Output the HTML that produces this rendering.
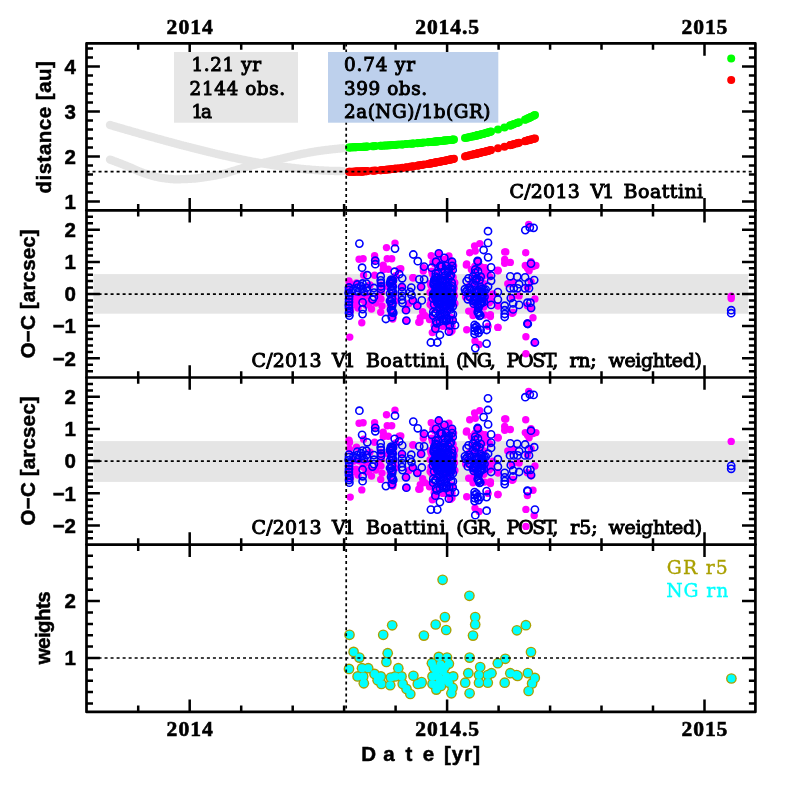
<!DOCTYPE html>
<html><head><meta charset="utf-8"><title>C/2013 V1 Boattini</title>
<style>html,body{margin:0;padding:0;background:#fff}svg{display:block;will-change:transform}.sb{font-family:"Liberation Serif",serif;font-weight:bold;font-size:21.6px;stroke:#000;stroke-width:.6px}.nb{font-family:"Liberation Sans",sans-serif;font-weight:bold;font-size:20.5px;stroke:#000;stroke-width:.5px}.ds{font-family:"DejaVu Serif","Liberation Serif",serif;font-size:18.4px;stroke:#000;stroke-width:.95px}.m{fill:#f0f}.b{fill:none;stroke:#00f}.lg{font-family:"DejaVu Serif","Liberation Serif",serif;font-size:18.8px}</style></head><body>
<svg width="797" height="797" viewBox="0 0 797 797">
<rect width="797" height="797" fill="#fff"/>
<rect x="93.4" y="274.1" width="654.9" height="39.6" fill="#e5e5e5"/>
<rect x="93.4" y="441.1" width="654.9" height="40.8" fill="#e5e5e5"/>
<g fill="none" stroke-linecap="round" stroke-linejoin="round" stroke-width="8.3">
<polyline stroke="#e5e5e5" points="110.0,125.0 111.0,125.3 112.0,125.6 113.0,125.9 114.0,126.2 115.0,126.5 116.0,126.8 117.0,127.1 118.0,127.4 119.0,127.6 120.0,127.9 121.0,128.2 122.0,128.5 123.0,128.8 124.0,129.1 125.0,129.4 126.0,129.7 127.0,130.0 128.0,130.2 129.0,130.5 130.0,130.8 131.0,131.1 132.0,131.4 133.0,131.7 134.0,132.0 135.0,132.3 136.0,132.5 137.0,132.8 138.0,133.1 139.0,133.4 140.0,133.7 141.0,134.0 142.0,134.2 143.0,134.5 144.0,134.8 145.0,135.1 146.0,135.4 147.0,135.7 148.0,135.9 149.0,136.2 150.0,136.5 151.0,136.8 152.0,137.1 153.0,137.3 154.0,137.6 155.0,137.9 156.0,138.2 157.0,138.5 158.0,138.7 159.0,139.0 160.0,139.3 161.0,139.6 162.0,139.8 163.0,140.1 164.0,140.4 165.0,140.7 166.0,140.9 167.0,141.2 168.0,141.5 169.0,141.7 170.0,142.0 171.0,142.3 172.0,142.6 173.0,142.8 174.0,143.1 175.0,143.4 176.0,143.6 177.0,143.9 178.0,144.2 179.0,144.4 180.0,144.7 181.0,145.0 182.0,145.2 183.0,145.5 184.0,145.7 185.0,146.0 186.0,146.3 187.0,146.5 188.0,146.8 189.0,147.0 190.0,147.3 191.0,147.6 192.0,147.8 193.0,148.1 194.0,148.3 195.0,148.6 196.0,148.8 197.0,149.1 198.0,149.3 199.0,149.6 200.0,149.8 201.0,150.1 202.0,150.3 203.0,150.6 204.0,150.8 205.0,151.1 206.0,151.3 207.0,151.6 208.0,151.8 209.0,152.1 210.0,152.3 211.0,152.5 212.0,152.8 213.0,153.0 214.0,153.3 215.0,153.5 216.0,153.7 217.0,154.0 218.0,154.2 219.0,154.4 220.0,154.7 221.0,154.9 222.0,155.1 223.0,155.4 224.0,155.6 225.0,155.8 226.0,156.0 227.0,156.3 228.0,156.5 229.0,156.7 230.0,156.9 231.0,157.2 232.0,157.4 233.0,157.6 234.0,157.8 235.0,158.0 236.0,158.2 237.0,158.4 238.0,158.7 239.0,158.9 240.0,159.1 241.0,159.3 242.0,159.5 243.0,159.7 244.0,159.9 245.0,160.1 246.0,160.3 247.0,160.5 248.0,160.7 249.0,160.9 250.0,161.1 251.0,161.3 252.0,161.5 253.0,161.7 254.0,161.9 255.0,162.0 256.0,162.2 257.0,162.4 258.0,162.6 259.0,162.8 260.0,163.0 261.0,163.1 262.0,163.3 263.0,163.5 264.0,163.7 265.0,163.8 266.0,164.0 267.0,164.2 268.0,164.3 269.0,164.5 270.0,164.7 271.0,164.8 272.0,165.0 273.0,165.1 274.0,165.3 275.0,165.5 276.0,165.6 277.0,165.8 278.0,165.9 279.0,166.1 280.0,166.2 281.0,166.3 282.0,166.5 283.0,166.6 284.0,166.8 285.0,166.9 286.0,167.0 287.0,167.2 288.0,167.3 289.0,167.4 290.0,167.5 291.0,167.7 292.0,167.8 293.0,167.9 294.0,168.0 295.0,168.1 296.0,168.3 297.0,168.4 298.0,168.5 299.0,168.6 300.0,168.7 301.0,168.8 302.0,168.9 303.0,169.0 304.0,169.1 305.0,169.2 306.0,169.3 307.0,169.4 308.0,169.5 309.0,169.5 310.0,169.6 311.0,169.7 312.0,169.8 313.0,169.9 314.0,169.9 315.0,170.0 316.0,170.1 317.0,170.1 318.0,170.2 319.0,170.3 320.0,170.3 321.0,170.4 322.0,170.4 323.0,170.5 324.0,170.6 325.0,170.6 326.0,170.6 327.0,170.7 328.0,170.7 329.0,170.8 330.0,170.8 331.0,170.8 332.0,170.9 333.0,170.9 334.0,170.9 335.0,171.0 336.0,171.0 337.0,171.0 338.0,171.0 339.0,171.0 340.0,171.0 341.0,171.1 342.0,171.1 343.0,171.1"/>
<polyline stroke="#e5e5e5" points="110.0,159.6 111.0,160.0 112.0,160.3 113.0,160.7 114.0,161.1 115.0,161.4 116.0,161.8 117.0,162.2 118.0,162.6 119.0,162.9 120.0,163.3 121.0,163.7 122.0,164.1 123.0,164.5 124.0,164.9 125.0,165.3 126.0,165.7 127.0,166.1 128.0,166.5 129.0,166.9 130.0,167.3 131.0,167.7 132.0,168.2 133.0,168.6 134.0,169.1 135.0,169.5 136.0,170.0 137.0,170.4 138.0,170.9 139.0,171.3 140.0,171.7 141.0,172.1 142.0,172.5 143.0,172.8 144.0,173.2 145.0,173.5 146.0,173.8 147.0,174.2 148.0,174.5 149.0,174.8 150.0,175.1 151.0,175.4 152.0,175.7 153.0,176.0 154.0,176.3 155.0,176.6 156.0,176.8 157.0,177.0 158.0,177.2 159.0,177.4 160.0,177.6 161.0,177.8 162.0,177.9 163.0,178.1 164.0,178.2 165.0,178.3 166.0,178.5 167.0,178.6 168.0,178.7 169.0,178.8 170.0,179.0 171.0,179.0 172.0,179.1 173.0,179.2 174.0,179.3 175.0,179.3 176.0,179.3 177.0,179.3 178.0,179.3 179.0,179.3 180.0,179.3 181.0,179.2 182.0,179.2 183.0,179.2 184.0,179.1 185.0,179.1 186.0,179.0 187.0,179.0 188.0,178.9 189.0,178.9 190.0,178.8 191.0,178.8 192.0,178.7 193.0,178.6 194.0,178.6 195.0,178.5 196.0,178.4 197.0,178.3 198.0,178.2 199.0,178.0 200.0,177.9 201.0,177.8 202.0,177.6 203.0,177.5 204.0,177.3 205.0,177.2 206.0,177.0 207.0,176.9 208.0,176.7 209.0,176.6 210.0,176.4 211.0,176.2 212.0,176.1 213.0,175.9 214.0,175.7 215.0,175.6 216.0,175.4 217.0,175.2 218.0,175.0 219.0,174.8 220.0,174.6 221.0,174.4 222.0,174.2 223.0,173.9 224.0,173.7 225.0,173.4 226.0,173.2 227.0,172.9 228.0,172.6 229.0,172.3 230.0,171.9 231.0,171.6 232.0,171.3 233.0,171.0 234.0,170.7 235.0,170.4 236.0,170.1 237.0,169.8 238.0,169.5 239.0,169.2 240.0,168.9 241.0,168.6 242.0,168.3 243.0,168.0 244.0,167.7 245.0,167.4 246.0,167.1 247.0,166.8 248.0,166.5 249.0,166.2 250.0,166.0 251.0,165.7 252.0,165.4 253.0,165.2 254.0,164.9 255.0,164.7 256.0,164.4 257.0,164.2 258.0,164.0 259.0,163.7 260.0,163.5 261.0,163.3 262.0,163.1 263.0,162.9 264.0,162.6 265.0,162.4 266.0,162.2 267.0,162.0 268.0,161.7 269.0,161.5 270.0,161.3 271.0,161.1 272.0,160.8 273.0,160.6 274.0,160.4 275.0,160.1 276.0,159.9 277.0,159.7 278.0,159.4 279.0,159.2 280.0,159.0 281.0,158.8 282.0,158.5 283.0,158.3 284.0,158.1 285.0,157.8 286.0,157.6 287.0,157.4 288.0,157.1 289.0,156.9 290.0,156.7 291.0,156.4 292.0,156.2 293.0,155.9 294.0,155.7 295.0,155.5 296.0,155.2 297.0,155.0 298.0,154.8 299.0,154.6 300.0,154.4 301.0,154.1 302.0,153.9 303.0,153.7 304.0,153.5 305.0,153.4 306.0,153.2 307.0,153.0 308.0,152.8 309.0,152.6 310.0,152.4 311.0,152.2 312.0,152.1 313.0,151.9 314.0,151.7 315.0,151.5 316.0,151.4 317.0,151.2 318.0,151.1 319.0,150.9 320.0,150.8 321.0,150.7 322.0,150.5 323.0,150.4 324.0,150.3 325.0,150.1 326.0,150.0 327.0,149.9 328.0,149.8 329.0,149.7 330.0,149.5 331.0,149.4 332.0,149.3 333.0,149.2 334.0,149.1 335.0,149.0 336.0,148.9 337.0,148.8 338.0,148.7 339.0,148.6 340.0,148.5 341.0,148.4 342.0,148.3 343.0,148.2"/>
</g>
<g fill="#00ff00">
<circle cx="349.0" cy="147.5" r="4"/>
<circle cx="349.5" cy="147.5" r="4"/>
<circle cx="351.0" cy="147.4" r="4"/>
<circle cx="352.5" cy="147.3" r="4"/>
<circle cx="353.5" cy="147.3" r="4"/>
<circle cx="354.0" cy="147.3" r="4"/>
<circle cx="355.5" cy="147.2" r="4"/>
<circle cx="356.0" cy="147.2" r="4"/>
<circle cx="357.0" cy="147.1" r="4"/>
<circle cx="357.5" cy="147.1" r="4"/>
<circle cx="358.5" cy="147.1" r="4"/>
<circle cx="359.5" cy="147.0" r="4"/>
<circle cx="360.0" cy="147.0" r="4"/>
<circle cx="361.0" cy="146.9" r="4"/>
<circle cx="361.5" cy="146.9" r="4"/>
<circle cx="362.0" cy="146.9" r="4"/>
<circle cx="362.5" cy="146.9" r="4"/>
<circle cx="363.0" cy="146.8" r="4"/>
<circle cx="364.0" cy="146.8" r="4"/>
<circle cx="364.5" cy="146.8" r="4"/>
<circle cx="366.0" cy="146.7" r="4"/>
<circle cx="366.5" cy="146.6" r="4"/>
<circle cx="367.5" cy="146.6" r="4"/>
<circle cx="372.5" cy="146.3" r="4"/>
<circle cx="374.0" cy="146.2" r="4"/>
<circle cx="375.5" cy="146.1" r="4"/>
<circle cx="380.5" cy="145.8" r="4"/>
<circle cx="381.0" cy="145.8" r="4"/>
<circle cx="383.0" cy="145.7" r="4"/>
<circle cx="384.5" cy="145.6" r="4"/>
<circle cx="386.0" cy="145.5" r="4"/>
<circle cx="387.5" cy="145.4" r="4"/>
<circle cx="389.0" cy="145.3" r="4"/>
<circle cx="390.5" cy="145.2" r="4"/>
<circle cx="392.0" cy="145.1" r="4"/>
<circle cx="393.5" cy="145.0" r="4"/>
<circle cx="394.5" cy="144.9" r="4"/>
<circle cx="395.0" cy="144.9" r="4"/>
<circle cx="396.5" cy="144.8" r="4"/>
<circle cx="399.0" cy="144.6" r="4"/>
<circle cx="402.0" cy="144.4" r="4"/>
<circle cx="402.5" cy="144.4" r="4"/>
<circle cx="406.0" cy="144.1" r="4"/>
<circle cx="406.5" cy="144.1" r="4"/>
<circle cx="410.0" cy="143.8" r="4"/>
<circle cx="411.5" cy="143.7" r="4"/>
<circle cx="413.0" cy="143.6" r="4"/>
<circle cx="413.5" cy="143.5" r="4"/>
<circle cx="417.5" cy="143.2" r="4"/>
<circle cx="418.0" cy="143.1" r="4"/>
<circle cx="419.5" cy="143.0" r="4"/>
<circle cx="421.0" cy="142.9" r="4"/>
<circle cx="422.0" cy="142.8" r="4"/>
<circle cx="424.0" cy="142.6" r="4"/>
<circle cx="428.0" cy="142.2" r="4"/>
<circle cx="429.0" cy="142.1" r="4"/>
<circle cx="430.0" cy="142.1" r="4"/>
<circle cx="431.0" cy="142.0" r="4"/>
<circle cx="431.5" cy="141.9" r="4"/>
<circle cx="432.0" cy="141.9" r="4"/>
<circle cx="433.0" cy="141.8" r="4"/>
<circle cx="434.0" cy="141.7" r="4"/>
<circle cx="435.0" cy="141.6" r="4"/>
<circle cx="435.5" cy="141.5" r="4"/>
<circle cx="436.0" cy="141.5" r="4"/>
<circle cx="437.0" cy="141.4" r="4"/>
<circle cx="437.5" cy="141.3" r="4"/>
<circle cx="438.0" cy="141.3" r="4"/>
<circle cx="439.0" cy="141.2" r="4"/>
<circle cx="440.0" cy="141.1" r="4"/>
<circle cx="441.0" cy="141.0" r="4"/>
<circle cx="442.0" cy="140.9" r="4"/>
<circle cx="443.0" cy="140.7" r="4"/>
<circle cx="444.0" cy="140.6" r="4"/>
<circle cx="444.5" cy="140.6" r="4"/>
<circle cx="445.0" cy="140.5" r="4"/>
<circle cx="446.0" cy="140.4" r="4"/>
<circle cx="447.0" cy="140.3" r="4"/>
<circle cx="448.0" cy="140.2" r="4"/>
<circle cx="449.0" cy="140.1" r="4"/>
<circle cx="449.5" cy="140.0" r="4"/>
<circle cx="450.0" cy="140.0" r="4"/>
<circle cx="451.0" cy="139.9" r="4"/>
<circle cx="452.0" cy="139.8" r="4"/>
<circle cx="452.5" cy="139.7" r="4"/>
<circle cx="453.0" cy="139.6" r="4"/>
<circle cx="454.0" cy="139.5" r="4"/>
<circle cx="465.0" cy="138.0" r="4"/>
<circle cx="466.5" cy="137.7" r="4"/>
<circle cx="468.0" cy="137.4" r="4"/>
<circle cx="469.5" cy="137.1" r="4"/>
<circle cx="471.0" cy="136.8" r="4"/>
<circle cx="472.5" cy="136.5" r="4"/>
<circle cx="474.0" cy="136.2" r="4"/>
<circle cx="474.5" cy="136.0" r="4"/>
<circle cx="475.5" cy="135.8" r="4"/>
<circle cx="476.5" cy="135.6" r="4"/>
<circle cx="477.0" cy="135.4" r="4"/>
<circle cx="477.5" cy="135.3" r="4"/>
<circle cx="478.0" cy="135.2" r="4"/>
<circle cx="478.5" cy="135.1" r="4"/>
<circle cx="480.0" cy="134.7" r="4"/>
<circle cx="480.5" cy="134.5" r="4"/>
<circle cx="481.5" cy="134.3" r="4"/>
<circle cx="483.0" cy="133.9" r="4"/>
<circle cx="483.5" cy="133.7" r="4"/>
<circle cx="484.5" cy="133.5" r="4"/>
<circle cx="486.0" cy="133.1" r="4"/>
<circle cx="486.5" cy="132.9" r="4"/>
<circle cx="487.5" cy="132.6" r="4"/>
<circle cx="488.0" cy="132.5" r="4"/>
<circle cx="489.0" cy="132.2" r="4"/>
<circle cx="490.5" cy="131.8" r="4"/>
<circle cx="491.0" cy="131.6" r="4"/>
<circle cx="498.0" cy="129.6" r="4"/>
<circle cx="504.5" cy="127.5" r="4"/>
<circle cx="510.0" cy="125.6" r="4"/>
<circle cx="510.5" cy="125.4" r="4"/>
<circle cx="511.0" cy="125.2" r="4"/>
<circle cx="513.0" cy="124.5" r="4"/>
<circle cx="514.0" cy="124.1" r="4"/>
<circle cx="517.0" cy="123.0" r="4"/>
<circle cx="517.5" cy="122.8" r="4"/>
<circle cx="519.0" cy="122.2" r="4"/>
<circle cx="525.0" cy="119.8" r="4"/>
<circle cx="525.5" cy="119.5" r="4"/>
<circle cx="527.5" cy="118.6" r="4"/>
<circle cx="528.0" cy="118.4" r="4"/>
<circle cx="529.0" cy="117.9" r="4"/>
<circle cx="530.0" cy="117.5" r="4"/>
<circle cx="530.5" cy="117.2" r="4"/>
<circle cx="531.0" cy="117.0" r="4"/>
<circle cx="533.5" cy="115.8" r="4"/>
<circle cx="534.0" cy="115.5" r="4"/>
<circle cx="535.0" cy="115.0" r="4"/>
</g>
<g fill="#ff0000">
<circle cx="349.0" cy="171.7" r="4"/>
<circle cx="349.5" cy="171.7" r="4"/>
<circle cx="351.0" cy="171.7" r="4"/>
<circle cx="352.5" cy="171.7" r="4"/>
<circle cx="353.5" cy="171.7" r="4"/>
<circle cx="354.0" cy="171.7" r="4"/>
<circle cx="355.5" cy="171.6" r="4"/>
<circle cx="356.0" cy="171.6" r="4"/>
<circle cx="357.0" cy="171.6" r="4"/>
<circle cx="357.5" cy="171.6" r="4"/>
<circle cx="358.5" cy="171.5" r="4"/>
<circle cx="359.5" cy="171.5" r="4"/>
<circle cx="360.0" cy="171.5" r="4"/>
<circle cx="361.0" cy="171.4" r="4"/>
<circle cx="361.5" cy="171.4" r="4"/>
<circle cx="362.0" cy="171.4" r="4"/>
<circle cx="362.5" cy="171.4" r="4"/>
<circle cx="363.0" cy="171.4" r="4"/>
<circle cx="364.0" cy="171.3" r="4"/>
<circle cx="364.5" cy="171.3" r="4"/>
<circle cx="366.0" cy="171.2" r="4"/>
<circle cx="366.5" cy="171.2" r="4"/>
<circle cx="367.5" cy="171.1" r="4"/>
<circle cx="372.5" cy="170.8" r="4"/>
<circle cx="374.0" cy="170.7" r="4"/>
<circle cx="375.5" cy="170.6" r="4"/>
<circle cx="380.5" cy="170.2" r="4"/>
<circle cx="381.0" cy="170.2" r="4"/>
<circle cx="383.0" cy="170.0" r="4"/>
<circle cx="384.5" cy="169.9" r="4"/>
<circle cx="386.0" cy="169.7" r="4"/>
<circle cx="387.5" cy="169.6" r="4"/>
<circle cx="389.0" cy="169.4" r="4"/>
<circle cx="390.5" cy="169.3" r="4"/>
<circle cx="392.0" cy="169.1" r="4"/>
<circle cx="393.5" cy="168.9" r="4"/>
<circle cx="394.5" cy="168.8" r="4"/>
<circle cx="395.0" cy="168.8" r="4"/>
<circle cx="396.5" cy="168.6" r="4"/>
<circle cx="399.0" cy="168.3" r="4"/>
<circle cx="402.0" cy="167.9" r="4"/>
<circle cx="402.5" cy="167.8" r="4"/>
<circle cx="406.0" cy="167.4" r="4"/>
<circle cx="406.5" cy="167.3" r="4"/>
<circle cx="410.0" cy="166.8" r="4"/>
<circle cx="411.5" cy="166.6" r="4"/>
<circle cx="413.0" cy="166.4" r="4"/>
<circle cx="413.5" cy="166.3" r="4"/>
<circle cx="417.5" cy="165.7" r="4"/>
<circle cx="418.0" cy="165.6" r="4"/>
<circle cx="419.5" cy="165.3" r="4"/>
<circle cx="421.0" cy="165.1" r="4"/>
<circle cx="422.0" cy="164.9" r="4"/>
<circle cx="424.0" cy="164.6" r="4"/>
<circle cx="428.0" cy="163.9" r="4"/>
<circle cx="429.0" cy="163.7" r="4"/>
<circle cx="430.0" cy="163.5" r="4"/>
<circle cx="431.0" cy="163.4" r="4"/>
<circle cx="431.5" cy="163.3" r="4"/>
<circle cx="432.0" cy="163.2" r="4"/>
<circle cx="433.0" cy="163.0" r="4"/>
<circle cx="434.0" cy="162.8" r="4"/>
<circle cx="435.0" cy="162.6" r="4"/>
<circle cx="435.5" cy="162.5" r="4"/>
<circle cx="436.0" cy="162.4" r="4"/>
<circle cx="437.0" cy="162.2" r="4"/>
<circle cx="437.5" cy="162.1" r="4"/>
<circle cx="438.0" cy="162.0" r="4"/>
<circle cx="439.0" cy="161.8" r="4"/>
<circle cx="440.0" cy="161.7" r="4"/>
<circle cx="441.0" cy="161.5" r="4"/>
<circle cx="442.0" cy="161.3" r="4"/>
<circle cx="443.0" cy="161.1" r="4"/>
<circle cx="444.0" cy="160.9" r="4"/>
<circle cx="444.5" cy="160.8" r="4"/>
<circle cx="445.0" cy="160.7" r="4"/>
<circle cx="446.0" cy="160.5" r="4"/>
<circle cx="447.0" cy="160.3" r="4"/>
<circle cx="448.0" cy="160.0" r="4"/>
<circle cx="449.0" cy="159.8" r="4"/>
<circle cx="449.5" cy="159.7" r="4"/>
<circle cx="450.0" cy="159.6" r="4"/>
<circle cx="451.0" cy="159.4" r="4"/>
<circle cx="452.0" cy="159.2" r="4"/>
<circle cx="452.5" cy="159.1" r="4"/>
<circle cx="453.0" cy="159.0" r="4"/>
<circle cx="454.0" cy="158.8" r="4"/>
<circle cx="465.0" cy="156.4" r="4"/>
<circle cx="466.5" cy="156.0" r="4"/>
<circle cx="468.0" cy="155.7" r="4"/>
<circle cx="469.5" cy="155.3" r="4"/>
<circle cx="471.0" cy="155.0" r="4"/>
<circle cx="472.5" cy="154.6" r="4"/>
<circle cx="474.0" cy="154.3" r="4"/>
<circle cx="474.5" cy="154.2" r="4"/>
<circle cx="475.5" cy="153.9" r="4"/>
<circle cx="476.5" cy="153.7" r="4"/>
<circle cx="477.0" cy="153.6" r="4"/>
<circle cx="477.5" cy="153.4" r="4"/>
<circle cx="478.0" cy="153.3" r="4"/>
<circle cx="478.5" cy="153.2" r="4"/>
<circle cx="480.0" cy="152.8" r="4"/>
<circle cx="480.5" cy="152.7" r="4"/>
<circle cx="481.5" cy="152.5" r="4"/>
<circle cx="483.0" cy="152.1" r="4"/>
<circle cx="483.5" cy="152.0" r="4"/>
<circle cx="484.5" cy="151.7" r="4"/>
<circle cx="486.0" cy="151.4" r="4"/>
<circle cx="486.5" cy="151.2" r="4"/>
<circle cx="487.5" cy="151.0" r="4"/>
<circle cx="488.0" cy="150.9" r="4"/>
<circle cx="489.0" cy="150.6" r="4"/>
<circle cx="490.5" cy="150.2" r="4"/>
<circle cx="491.0" cy="150.1" r="4"/>
<circle cx="498.0" cy="148.3" r="4"/>
<circle cx="504.5" cy="146.7" r="4"/>
<circle cx="510.0" cy="145.2" r="4"/>
<circle cx="510.5" cy="145.1" r="4"/>
<circle cx="511.0" cy="144.9" r="4"/>
<circle cx="513.0" cy="144.4" r="4"/>
<circle cx="514.0" cy="144.1" r="4"/>
<circle cx="517.0" cy="143.3" r="4"/>
<circle cx="517.5" cy="143.2" r="4"/>
<circle cx="519.0" cy="142.8" r="4"/>
<circle cx="525.0" cy="141.2" r="4"/>
<circle cx="525.5" cy="141.0" r="4"/>
<circle cx="527.5" cy="140.5" r="4"/>
<circle cx="528.0" cy="140.3" r="4"/>
<circle cx="529.0" cy="140.1" r="4"/>
<circle cx="530.0" cy="139.8" r="4"/>
<circle cx="530.5" cy="139.7" r="4"/>
<circle cx="531.0" cy="139.5" r="4"/>
<circle cx="533.5" cy="138.8" r="4"/>
<circle cx="534.0" cy="138.7" r="4"/>
<circle cx="535.0" cy="138.4" r="4"/>
</g>
<g>
<circle cx="731.2" cy="58.5" r="4" fill="#00ff00"/><circle cx="731.2" cy="80.1" r="4" fill="#ff0000"/>
<text y="198.4" class="ds" style="font-size:19px"><tspan x="509.5" textLength="76.5">C/2013 </tspan><tspan x="590.6" textLength="27.5">V1 </tspan><tspan x="623.6" textLength="79.6">Boattini</tspan></text>
<text y="367.0" class="ds" style="font-size:19px"><tspan x="251.4" textLength="76.5">C/2013 </tspan><tspan x="331.9" textLength="27.5">V1 </tspan><tspan x="365.9" textLength="86.2">Boattini </tspan><tspan x="456.1" textLength="44.1">(NG, </tspan><tspan x="506.5" textLength="56.6">POST, </tspan><tspan x="569.4" textLength="33.1">rn; </tspan><tspan x="608.6" textLength="93.3">weighted)</tspan></text>
<g stroke-width="1.6">
<circle class="m" cx="395.0" cy="243.1" r="3.7"/>
<circle class="m" cx="386.5" cy="247.6" r="3.7"/>
<circle class="m" cx="359.1" cy="259.2" r="3.7"/>
<circle class="m" cx="363.1" cy="258.7" r="3.7"/>
<circle class="m" cx="374.6" cy="255.7" r="3.7"/>
<circle class="m" cx="374.6" cy="260.2" r="3.7"/>
<circle class="m" cx="387.2" cy="258.7" r="3.7"/>
<circle class="m" cx="391.7" cy="258.7" r="3.7"/>
<circle class="m" cx="383.2" cy="265.2" r="3.7"/>
<circle class="m" cx="383.2" cy="269.7" r="3.7"/>
<circle class="m" cx="388.2" cy="269.2" r="3.7"/>
<circle class="m" cx="399.2" cy="269.2" r="3.7"/>
<circle class="m" cx="363.6" cy="275.2" r="3.7"/>
<circle class="m" cx="374.6" cy="275.2" r="3.7"/>
<circle class="m" cx="413.3" cy="277.8" r="3.7"/>
<circle class="m" cx="349.5" cy="283.3" r="3.7"/>
<circle class="m" cx="401.7" cy="287.3" r="3.7"/>
<circle class="m" cx="349.8" cy="337.1" r="3.7"/>
<circle class="m" cx="361.8" cy="322.8" r="3.7"/>
<circle class="m" cx="392.7" cy="319.0" r="3.7"/>
<circle class="m" cx="380.7" cy="312.3" r="3.7"/>
<circle class="m" cx="431.2" cy="255.7" r="3.7"/>
<circle class="m" cx="448.9" cy="256.0" r="3.7"/>
<circle class="m" cx="435.4" cy="261.7" r="3.7"/>
<circle class="m" cx="444.4" cy="259.4" r="3.7"/>
<circle class="m" cx="451.2" cy="262.1" r="3.7"/>
<circle class="m" cx="423.3" cy="267.7" r="3.7"/>
<circle class="m" cx="423.3" cy="271.1" r="3.7"/>
<circle class="m" cx="431.6" cy="271.1" r="3.7"/>
<circle class="m" cx="435.4" cy="272.2" r="3.7"/>
<circle class="m" cx="400.8" cy="268.8" r="3.7"/>
<circle class="m" cx="412.8" cy="277.8" r="3.7"/>
<circle class="m" cx="421.1" cy="286.8" r="3.7"/>
<circle class="m" cx="412.8" cy="300.4" r="3.7"/>
<circle class="m" cx="417.3" cy="305.7" r="3.7"/>
<circle class="m" cx="406.0" cy="310.2" r="3.7"/>
<circle class="m" cx="406.0" cy="320.7" r="3.7"/>
<circle class="m" cx="409.0" cy="303.4" r="3.7"/>
<circle class="m" cx="422.6" cy="311.7" r="3.7"/>
<circle class="m" cx="420.3" cy="317.7" r="3.7"/>
<circle class="m" cx="424.8" cy="315.5" r="3.7"/>
<circle class="m" cx="418.8" cy="322.2" r="3.7"/>
<circle class="m" cx="420.0" cy="321.8" r="3.7"/>
<circle class="m" cx="434.6" cy="330.0" r="3.7"/>
<circle class="m" cx="442.9" cy="326.3" r="3.7"/>
<circle class="m" cx="452.0" cy="330.8" r="3.7"/>
<circle class="m" cx="479.8" cy="243.6" r="3.7"/>
<circle class="m" cx="474.6" cy="245.9" r="3.7"/>
<circle class="m" cx="469.7" cy="252.7" r="3.7"/>
<circle class="m" cx="475.3" cy="251.1" r="3.7"/>
<circle class="m" cx="466.7" cy="263.9" r="3.7"/>
<circle class="m" cx="477.6" cy="261.7" r="3.7"/>
<circle class="m" cx="504.7" cy="251.9" r="3.7"/>
<circle class="m" cx="504.7" cy="259.4" r="3.7"/>
<circle class="m" cx="510.3" cy="262.4" r="3.7"/>
<circle class="m" cx="504.7" cy="263.2" r="3.7"/>
<circle class="m" cx="485.1" cy="267.7" r="3.7"/>
<circle class="m" cx="497.9" cy="270.7" r="3.7"/>
<circle class="m" cx="474.6" cy="270.7" r="3.7"/>
<circle class="m" cx="485.1" cy="272.2" r="3.7"/>
<circle class="m" cx="497.9" cy="270.3" r="3.7"/>
<circle class="m" cx="466.3" cy="265.0" r="3.7"/>
<circle class="m" cx="490.4" cy="314.7" r="3.7"/>
<circle class="m" cx="497.9" cy="305.7" r="3.7"/>
<circle class="m" cx="512.2" cy="283.8" r="3.7"/>
<circle class="m" cx="512.2" cy="313.2" r="3.7"/>
<circle class="m" cx="466.7" cy="329.7" r="3.7"/>
<circle class="m" cx="497.9" cy="327.4" r="3.7"/>
<circle class="m" cx="475.0" cy="341.0" r="3.7"/>
<circle class="m" cx="479.1" cy="344.4" r="3.7"/>
<circle class="m" cx="488.1" cy="326.3" r="3.7"/>
<circle class="m" cx="490.4" cy="316.5" r="3.7"/>
<circle class="m" cx="528.7" cy="224.4" r="3.7"/>
<circle class="m" cx="525.7" cy="252.7" r="3.7"/>
<circle class="m" cx="505.8" cy="251.9" r="3.7"/>
<circle class="m" cx="531.0" cy="261.7" r="3.7"/>
<circle class="m" cx="525.3" cy="265.5" r="3.7"/>
<circle class="m" cx="535.9" cy="265.5" r="3.7"/>
<circle class="m" cx="529.1" cy="270.7" r="3.7"/>
<circle class="m" cx="498.0" cy="270.6" r="3.7"/>
<circle class="m" cx="513.1" cy="282.3" r="3.7"/>
<circle class="m" cx="507.8" cy="283.8" r="3.7"/>
<circle class="m" cx="527.4" cy="287.6" r="3.7"/>
<circle class="m" cx="531.1" cy="281.6" r="3.7"/>
<circle class="m" cx="519.1" cy="295.9" r="3.7"/>
<circle class="m" cx="534.9" cy="298.9" r="3.7"/>
<circle class="m" cx="512.3" cy="297.4" r="3.7"/>
<circle class="m" cx="498.0" cy="305.7" r="3.7"/>
<circle class="m" cx="513.1" cy="312.4" r="3.7"/>
<circle class="m" cx="527.4" cy="305.7" r="3.7"/>
<circle class="m" cx="531.1" cy="308.7" r="3.7"/>
<circle class="m" cx="533.0" cy="317.7" r="3.7"/>
<circle class="m" cx="527.4" cy="323.0" r="3.7"/>
<circle class="m" cx="527.4" cy="268.0" r="3.7"/>
<circle class="m" cx="533.0" cy="266.5" r="3.7"/>
<circle class="m" cx="498.0" cy="327.4" r="3.7"/>
<circle class="m" cx="525.9" cy="336.8" r="3.7"/>
<circle class="m" cx="534.2" cy="342.9" r="3.7"/>
<circle class="m" cx="525.9" cy="353.8" r="3.7"/>
<circle class="m" cx="349.0" cy="281.0" r="3.7"/>
<circle class="m" cx="349.5" cy="290.0" r="3.7"/>
<circle class="m" cx="350.0" cy="300.0" r="3.7"/>
<circle class="m" cx="349.0" cy="306.0" r="3.7"/>
<circle class="m" cx="350.5" cy="311.0" r="3.7"/>
<circle class="m" cx="354.0" cy="297.0" r="3.7"/>
<circle class="m" cx="356.0" cy="302.0" r="3.7"/>
<circle class="m" cx="358.0" cy="308.0" r="3.7"/>
<circle class="m" cx="352.5" cy="305.0" r="3.7"/>
<circle class="m" cx="356.5" cy="283.0" r="3.7"/>
<circle class="m" cx="359.5" cy="297.0" r="3.7"/>
<circle class="m" cx="363.0" cy="300.0" r="3.7"/>
<circle class="m" cx="366.0" cy="305.0" r="3.7"/>
<circle class="m" cx="367.0" cy="296.0" r="3.7"/>
<circle class="m" cx="369.5" cy="303.0" r="3.7"/>
<circle class="m" cx="371.5" cy="309.0" r="3.7"/>
<circle class="m" cx="376.0" cy="303.0" r="3.7"/>
<circle class="m" cx="378.0" cy="297.0" r="3.7"/>
<circle class="m" cx="370.0" cy="285.0" r="3.7"/>
<circle class="m" cx="381.0" cy="285.0" r="3.7"/>
<circle class="m" cx="381.5" cy="292.0" r="3.7"/>
<circle class="m" cx="381.0" cy="299.0" r="3.7"/>
<circle class="m" cx="382.0" cy="306.0" r="3.7"/>
<circle class="m" cx="391.2" cy="314.3" r="3.7"/>
<circle class="m" cx="392.2" cy="283.8" r="3.7"/>
<circle class="m" cx="395.7" cy="275.8" r="3.7"/>
<circle class="m" cx="391.5" cy="295.2" r="3.7"/>
<circle class="m" cx="393.8" cy="294.8" r="3.7"/>
<circle class="m" cx="388.2" cy="286.8" r="3.7"/>
<circle class="m" cx="393.0" cy="284.3" r="3.7"/>
<circle class="m" cx="395.7" cy="300.6" r="3.7"/>
<circle class="m" cx="393.2" cy="316.9" r="3.7"/>
<circle class="m" cx="393.5" cy="280.8" r="3.7"/>
<circle class="m" cx="392.8" cy="314.0" r="3.7"/>
<circle class="m" cx="390.3" cy="305.9" r="3.7"/>
<circle class="m" cx="436.9" cy="325.9" r="3.7"/>
<circle class="m" cx="454.2" cy="288.3" r="3.7"/>
<circle class="m" cx="448.4" cy="286.6" r="3.7"/>
<circle class="m" cx="432.6" cy="283.5" r="3.7"/>
<circle class="m" cx="438.3" cy="320.4" r="3.7"/>
<circle class="m" cx="434.6" cy="308.4" r="3.7"/>
<circle class="m" cx="436.1" cy="287.4" r="3.7"/>
<circle class="m" cx="452.1" cy="319.5" r="3.7"/>
<circle class="m" cx="447.8" cy="325.5" r="3.7"/>
<circle class="m" cx="434.2" cy="325.5" r="3.7"/>
<circle class="m" cx="454.7" cy="282.9" r="3.7"/>
<circle class="m" cx="448.2" cy="325.7" r="3.7"/>
<circle class="m" cx="450.5" cy="332.1" r="3.7"/>
<circle class="m" cx="443.8" cy="267.0" r="3.7"/>
<circle class="m" cx="448.5" cy="309.2" r="3.7"/>
<circle class="m" cx="446.3" cy="266.9" r="3.7"/>
<circle class="m" cx="453.6" cy="292.3" r="3.7"/>
<circle class="m" cx="438.4" cy="308.3" r="3.7"/>
<circle class="m" cx="454.9" cy="303.4" r="3.7"/>
<circle class="m" cx="437.3" cy="287.7" r="3.7"/>
<circle class="m" cx="433.9" cy="276.5" r="3.7"/>
<circle class="m" cx="453.1" cy="277.2" r="3.7"/>
<circle class="m" cx="451.0" cy="328.9" r="3.7"/>
<circle class="m" cx="440.6" cy="278.6" r="3.7"/>
<circle class="m" cx="434.0" cy="283.2" r="3.7"/>
<circle class="m" cx="439.8" cy="258.9" r="3.7"/>
<circle class="m" cx="440.2" cy="295.5" r="3.7"/>
<circle class="m" cx="439.3" cy="267.7" r="3.7"/>
<circle class="m" cx="437.9" cy="259.7" r="3.7"/>
<circle class="m" cx="447.4" cy="311.4" r="3.7"/>
<circle class="m" cx="451.6" cy="317.8" r="3.7"/>
<circle class="m" cx="439.5" cy="289.9" r="3.7"/>
<circle class="m" cx="438.6" cy="261.1" r="3.7"/>
<circle class="m" cx="448.0" cy="327.0" r="3.7"/>
<circle class="m" cx="429.5" cy="319.6" r="3.7"/>
<circle class="m" cx="449.3" cy="324.0" r="3.7"/>
<circle class="m" cx="433.5" cy="304.9" r="3.7"/>
<circle class="m" cx="454.0" cy="302.8" r="3.7"/>
<circle class="m" cx="449.4" cy="297.1" r="3.7"/>
<circle class="m" cx="432.9" cy="262.1" r="3.7"/>
<circle class="m" cx="444.3" cy="306.9" r="3.7"/>
<circle class="m" cx="454.5" cy="295.7" r="3.7"/>
<circle class="m" cx="440.9" cy="270.0" r="3.7"/>
<circle class="m" cx="438.3" cy="261.8" r="3.7"/>
<circle class="m" cx="445.1" cy="282.1" r="3.7"/>
<circle class="m" cx="441.7" cy="262.2" r="3.7"/>
<circle class="m" cx="441.9" cy="278.8" r="3.7"/>
<circle class="m" cx="454.5" cy="282.4" r="3.7"/>
<circle class="m" cx="430.1" cy="304.5" r="3.7"/>
<circle class="m" cx="440.4" cy="304.0" r="3.7"/>
<circle class="m" cx="453.6" cy="266.0" r="3.7"/>
<circle class="m" cx="438.3" cy="305.0" r="3.7"/>
<circle class="m" cx="436.2" cy="261.1" r="3.7"/>
<circle class="m" cx="438.6" cy="253.8" r="3.7"/>
<circle class="m" cx="441.6" cy="317.4" r="3.7"/>
<circle class="m" cx="432.3" cy="300.6" r="3.7"/>
<circle class="m" cx="452.8" cy="318.6" r="3.7"/>
<circle class="m" cx="431.0" cy="319.3" r="3.7"/>
<circle class="m" cx="430.9" cy="299.8" r="3.7"/>
<circle class="m" cx="440.3" cy="275.0" r="3.7"/>
<circle class="m" cx="441.2" cy="282.9" r="3.7"/>
<circle class="m" cx="432.4" cy="273.9" r="3.7"/>
<circle class="m" cx="434.5" cy="295.5" r="3.7"/>
<circle class="m" cx="441.7" cy="307.5" r="3.7"/>
<circle class="m" cx="449.6" cy="324.1" r="3.7"/>
<circle class="m" cx="436.8" cy="321.3" r="3.7"/>
<circle class="m" cx="434.7" cy="263.7" r="3.7"/>
<circle class="m" cx="439.4" cy="282.5" r="3.7"/>
<circle class="m" cx="450.4" cy="306.3" r="3.7"/>
<circle class="m" cx="434.6" cy="290.8" r="3.7"/>
<circle class="m" cx="437.9" cy="292.5" r="3.7"/>
<circle class="m" cx="445.9" cy="301.5" r="3.7"/>
<circle class="m" cx="440.0" cy="291.8" r="3.7"/>
<circle class="m" cx="450.4" cy="275.7" r="3.7"/>
<circle class="m" cx="431.1" cy="285.8" r="3.7"/>
<circle class="m" cx="439.1" cy="263.5" r="3.7"/>
<circle class="m" cx="437.7" cy="264.2" r="3.7"/>
<circle class="m" cx="447.8" cy="257.7" r="3.7"/>
<circle class="m" cx="430.1" cy="292.5" r="3.7"/>
<circle class="m" cx="452.0" cy="326.2" r="3.7"/>
<circle class="m" cx="450.7" cy="293.8" r="3.7"/>
<circle class="m" cx="432.3" cy="332.6" r="3.7"/>
<circle class="m" cx="450.9" cy="300.4" r="3.7"/>
<circle class="m" cx="438.0" cy="285.7" r="3.7"/>
<circle class="m" cx="449.8" cy="275.8" r="3.7"/>
<circle class="m" cx="449.1" cy="267.9" r="3.7"/>
<circle class="m" cx="430.4" cy="283.5" r="3.7"/>
<circle class="m" cx="452.5" cy="263.8" r="3.7"/>
<circle class="m" cx="432.0" cy="306.6" r="3.7"/>
<circle class="m" cx="441.1" cy="289.0" r="3.7"/>
<circle class="m" cx="445.6" cy="308.9" r="3.7"/>
<circle class="m" cx="451.5" cy="271.3" r="3.7"/>
<circle class="m" cx="451.4" cy="298.0" r="3.7"/>
<circle class="m" cx="439.2" cy="276.0" r="3.7"/>
<circle class="m" cx="435.9" cy="273.2" r="3.7"/>
<circle class="m" cx="452.5" cy="283.6" r="3.7"/>
<circle class="m" cx="440.3" cy="262.3" r="3.7"/>
<circle class="m" cx="446.4" cy="291.8" r="3.7"/>
<circle class="m" cx="430.5" cy="317.0" r="3.7"/>
<circle class="m" cx="435.5" cy="286.4" r="3.7"/>
<circle class="m" cx="483.8" cy="283.8" r="3.7"/>
<circle class="m" cx="491.6" cy="300.6" r="3.7"/>
<circle class="m" cx="481.6" cy="282.6" r="3.7"/>
<circle class="m" cx="489.3" cy="302.8" r="3.7"/>
<circle class="m" cx="484.5" cy="315.0" r="3.7"/>
<circle class="m" cx="480.8" cy="266.7" r="3.7"/>
<circle class="m" cx="492.9" cy="294.0" r="3.7"/>
<circle class="m" cx="476.1" cy="276.8" r="3.7"/>
<circle class="m" cx="487.5" cy="296.8" r="3.7"/>
<circle class="m" cx="482.9" cy="276.2" r="3.7"/>
<circle class="m" cx="468.7" cy="311.1" r="3.7"/>
<circle class="m" cx="480.8" cy="295.1" r="3.7"/>
<circle class="m" cx="466.8" cy="293.6" r="3.7"/>
<circle class="m" cx="475.5" cy="284.1" r="3.7"/>
<circle class="m" cx="472.0" cy="301.6" r="3.7"/>
<circle class="m" cx="475.6" cy="295.9" r="3.7"/>
<circle class="m" cx="476.8" cy="294.8" r="3.7"/>
<circle class="m" cx="472.3" cy="278.9" r="3.7"/>
<circle class="m" cx="473.1" cy="297.2" r="3.7"/>
<circle class="m" cx="481.8" cy="298.1" r="3.7"/>
<circle class="m" cx="470.0" cy="284.9" r="3.7"/>
<circle class="m" cx="479.3" cy="283.6" r="3.7"/>
<circle class="m" cx="483.8" cy="296.2" r="3.7"/>
<circle class="m" cx="482.0" cy="276.0" r="3.7"/>
<circle class="m" cx="478.0" cy="282.0" r="3.7"/>
<circle class="m" cx="475.0" cy="301.7" r="3.7"/>
<circle class="m" cx="480.3" cy="298.9" r="3.7"/>
<circle class="m" cx="473.0" cy="315.6" r="3.7"/>
<circle class="m" cx="475.7" cy="287.2" r="3.7"/>
<circle class="m" cx="474.9" cy="266.3" r="3.7"/>
<circle class="m" cx="489.8" cy="276.7" r="3.7"/>
<circle class="m" cx="487.3" cy="273.3" r="3.7"/>
<circle class="m" cx="473.5" cy="285.1" r="3.7"/>
<circle class="m" cx="465.6" cy="296.9" r="3.7"/>
<circle class="m" cx="483.8" cy="307.1" r="3.7"/>
<circle class="m" cx="481.2" cy="282.2" r="3.7"/>
<circle class="m" cx="471.4" cy="269.4" r="3.7"/>
<circle class="m" cx="474.0" cy="309.0" r="3.7"/>
<circle class="m" cx="481.1" cy="267.4" r="3.7"/>
<circle class="m" cx="475.8" cy="305.7" r="3.7"/>
<circle class="m" cx="731.2" cy="296.3" r="3.7"/>
<circle class="m" cx="731.2" cy="298.6" r="3.7"/>
<circle class="b" cx="359.4" cy="243.6" r="3.6"/>
<circle class="b" cx="395.0" cy="248.6" r="3.6"/>
<circle class="b" cx="413.3" cy="254.5" r="3.6"/>
<circle class="b" cx="417.8" cy="261.2" r="3.6"/>
<circle class="b" cx="375.3" cy="260.7" r="3.6"/>
<circle class="b" cx="375.3" cy="264.2" r="3.6"/>
<circle class="b" cx="362.1" cy="267.7" r="3.6"/>
<circle class="b" cx="367.3" cy="275.2" r="3.6"/>
<circle class="b" cx="380.7" cy="276.2" r="3.6"/>
<circle class="b" cx="380.7" cy="280.3" r="3.6"/>
<circle class="b" cx="394.7" cy="271.7" r="3.6"/>
<circle class="b" cx="399.2" cy="274.2" r="3.6"/>
<circle class="b" cx="402.2" cy="278.3" r="3.6"/>
<circle class="b" cx="419.3" cy="279.3" r="3.6"/>
<circle class="b" cx="349.4" cy="315.6" r="3.6"/>
<circle class="b" cx="385.9" cy="319.0" r="3.6"/>
<circle class="b" cx="362.6" cy="314.1" r="3.6"/>
<circle class="b" cx="362.6" cy="302.4" r="3.6"/>
<circle class="b" cx="362.6" cy="309.2" r="3.6"/>
<circle class="b" cx="424.1" cy="266.6" r="3.6"/>
<circle class="b" cx="431.6" cy="267.7" r="3.6"/>
<circle class="b" cx="438.8" cy="253.4" r="3.6"/>
<circle class="b" cx="444.4" cy="257.9" r="3.6"/>
<circle class="b" cx="436.1" cy="261.7" r="3.6"/>
<circle class="b" cx="452.0" cy="261.7" r="3.6"/>
<circle class="b" cx="452.7" cy="270.0" r="3.6"/>
<circle class="b" cx="424.1" cy="279.3" r="3.6"/>
<circle class="b" cx="411.3" cy="287.6" r="3.6"/>
<circle class="b" cx="421.1" cy="286.8" r="3.6"/>
<circle class="b" cx="410.0" cy="292.0" r="3.6"/>
<circle class="b" cx="411.5" cy="295.0" r="3.6"/>
<circle class="b" cx="402.0" cy="287.0" r="3.6"/>
<circle class="b" cx="402.0" cy="291.5" r="3.6"/>
<circle class="b" cx="402.0" cy="296.0" r="3.6"/>
<circle class="b" cx="402.0" cy="300.0" r="3.6"/>
<circle class="b" cx="402.5" cy="303.0" r="3.6"/>
<circle class="b" cx="412.8" cy="300.4" r="3.6"/>
<circle class="b" cx="421.8" cy="300.4" r="3.6"/>
<circle class="b" cx="417.3" cy="305.7" r="3.6"/>
<circle class="b" cx="406.0" cy="310.2" r="3.6"/>
<circle class="b" cx="406.4" cy="320.6" r="3.6"/>
<circle class="b" cx="430.9" cy="342.5" r="3.6"/>
<circle class="b" cx="437.3" cy="342.5" r="3.6"/>
<circle class="b" cx="439.9" cy="335.0" r="3.6"/>
<circle class="b" cx="435.4" cy="328.6" r="3.6"/>
<circle class="b" cx="436.9" cy="323.3" r="3.6"/>
<circle class="b" cx="448.9" cy="331.6" r="3.6"/>
<circle class="b" cx="449.7" cy="325.5" r="3.6"/>
<circle class="b" cx="455.0" cy="325.2" r="3.6"/>
<circle class="b" cx="488.0" cy="231.2" r="3.6"/>
<circle class="b" cx="488.0" cy="242.9" r="3.6"/>
<circle class="b" cx="483.6" cy="250.0" r="3.6"/>
<circle class="b" cx="488.1" cy="257.3" r="3.6"/>
<circle class="b" cx="477.6" cy="260.9" r="3.6"/>
<circle class="b" cx="477.9" cy="261.5" r="3.6"/>
<circle class="b" cx="475.3" cy="269.5" r="3.6"/>
<circle class="b" cx="491.1" cy="267.3" r="3.6"/>
<circle class="b" cx="491.1" cy="275.5" r="3.6"/>
<circle class="b" cx="491.1" cy="280.8" r="3.6"/>
<circle class="b" cx="497.9" cy="292.1" r="3.6"/>
<circle class="b" cx="497.9" cy="299.6" r="3.6"/>
<circle class="b" cx="491.1" cy="304.9" r="3.6"/>
<circle class="b" cx="504.7" cy="305.7" r="3.6"/>
<circle class="b" cx="504.7" cy="310.2" r="3.6"/>
<circle class="b" cx="504.7" cy="314.0" r="3.6"/>
<circle class="b" cx="504.7" cy="317.0" r="3.6"/>
<circle class="b" cx="510.3" cy="276.3" r="3.6"/>
<circle class="b" cx="481.4" cy="303.4" r="3.6"/>
<circle class="b" cx="475.3" cy="348.1" r="3.6"/>
<circle class="b" cx="486.6" cy="343.6" r="3.6"/>
<circle class="b" cx="486.6" cy="324.0" r="3.6"/>
<circle class="b" cx="486.6" cy="330.0" r="3.6"/>
<circle class="b" cx="474.6" cy="325.0" r="3.6"/>
<circle class="b" cx="474.6" cy="328.0" r="3.6"/>
<circle class="b" cx="474.6" cy="331.0" r="3.6"/>
<circle class="b" cx="474.6" cy="334.0" r="3.6"/>
<circle class="b" cx="476.5" cy="326.5" r="3.6"/>
<circle class="b" cx="477.5" cy="330.0" r="3.6"/>
<circle class="b" cx="480.6" cy="330.0" r="3.6"/>
<circle class="b" cx="478.5" cy="333.0" r="3.6"/>
<circle class="b" cx="525.3" cy="230.1" r="3.6"/>
<circle class="b" cx="529.8" cy="227.4" r="3.6"/>
<circle class="b" cx="533.6" cy="227.8" r="3.6"/>
<circle class="b" cx="531.0" cy="263.6" r="3.6"/>
<circle class="b" cx="517.2" cy="276.7" r="3.6"/>
<circle class="b" cx="525.1" cy="277.4" r="3.6"/>
<circle class="b" cx="534.2" cy="280.1" r="3.6"/>
<circle class="b" cx="519.1" cy="284.2" r="3.6"/>
<circle class="b" cx="510.0" cy="288.3" r="3.6"/>
<circle class="b" cx="513.8" cy="288.3" r="3.6"/>
<circle class="b" cx="517.6" cy="288.3" r="3.6"/>
<circle class="b" cx="525.0" cy="288.3" r="3.6"/>
<circle class="b" cx="529.0" cy="288.3" r="3.6"/>
<circle class="b" cx="528.9" cy="282.3" r="3.6"/>
<circle class="b" cx="510.8" cy="298.1" r="3.6"/>
<circle class="b" cx="513.1" cy="303.4" r="3.6"/>
<circle class="b" cx="519.1" cy="304.9" r="3.6"/>
<circle class="b" cx="513.1" cy="309.4" r="3.6"/>
<circle class="b" cx="527.4" cy="302.7" r="3.6"/>
<circle class="b" cx="530.4" cy="302.7" r="3.6"/>
<circle class="b" cx="531.1" cy="307.9" r="3.6"/>
<circle class="b" cx="527.8" cy="324.0" r="3.6"/>
<circle class="b" cx="527.4" cy="323.6" r="3.6"/>
<circle class="b" cx="534.9" cy="342.5" r="3.6"/>
<circle class="b" cx="349.0" cy="287.5" r="3.6"/>
<circle class="b" cx="349.0" cy="290.0" r="3.6"/>
<circle class="b" cx="348.6" cy="293.0" r="3.6"/>
<circle class="b" cx="349.2" cy="296.0" r="3.6"/>
<circle class="b" cx="349.0" cy="299.0" r="3.6"/>
<circle class="b" cx="349.0" cy="302.0" r="3.6"/>
<circle class="b" cx="348.8" cy="305.0" r="3.6"/>
<circle class="b" cx="349.0" cy="308.0" r="3.6"/>
<circle class="b" cx="349.2" cy="311.0" r="3.6"/>
<circle class="b" cx="349.0" cy="313.0" r="3.6"/>
<circle class="b" cx="353.5" cy="289.0" r="3.6"/>
<circle class="b" cx="356.0" cy="291.0" r="3.6"/>
<circle class="b" cx="357.3" cy="284.5" r="3.6"/>
<circle class="b" cx="357.3" cy="288.0" r="3.6"/>
<circle class="b" cx="358.5" cy="291.5" r="3.6"/>
<circle class="b" cx="361.0" cy="286.0" r="3.6"/>
<circle class="b" cx="362.5" cy="283.5" r="3.6"/>
<circle class="b" cx="362.5" cy="289.0" r="3.6"/>
<circle class="b" cx="364.0" cy="292.0" r="3.6"/>
<circle class="b" cx="366.4" cy="283.6" r="3.6"/>
<circle class="b" cx="366.4" cy="288.0" r="3.6"/>
<circle class="b" cx="367.5" cy="291.0" r="3.6"/>
<circle class="b" cx="373.9" cy="288.0" r="3.6"/>
<circle class="b" cx="373.9" cy="292.6" r="3.6"/>
<circle class="b" cx="373.9" cy="297.0" r="3.6"/>
<circle class="b" cx="372.5" cy="299.5" r="3.6"/>
<circle class="b" cx="381.0" cy="283.0" r="3.6"/>
<circle class="b" cx="381.0" cy="286.5" r="3.6"/>
<circle class="b" cx="381.0" cy="289.0" r="3.6"/>
<circle class="b" cx="391.6" cy="303.9" r="3.6"/>
<circle class="b" cx="392.5" cy="280.4" r="3.6"/>
<circle class="b" cx="390.9" cy="279.8" r="3.6"/>
<circle class="b" cx="391.7" cy="298.1" r="3.6"/>
<circle class="b" cx="393.0" cy="280.3" r="3.6"/>
<circle class="b" cx="392.2" cy="281.2" r="3.6"/>
<circle class="b" cx="390.1" cy="282.5" r="3.6"/>
<circle class="b" cx="392.8" cy="286.5" r="3.6"/>
<circle class="b" cx="390.0" cy="300.9" r="3.6"/>
<circle class="b" cx="390.0" cy="293.6" r="3.6"/>
<circle class="b" cx="392.2" cy="312.3" r="3.6"/>
<circle class="b" cx="391.8" cy="289.2" r="3.6"/>
<circle class="b" cx="392.2" cy="290.0" r="3.6"/>
<circle class="b" cx="392.3" cy="310.6" r="3.6"/>
<circle class="b" cx="392.5" cy="303.4" r="3.6"/>
<circle class="b" cx="393.2" cy="292.6" r="3.6"/>
<circle class="b" cx="391.5" cy="279.9" r="3.6"/>
<circle class="b" cx="391.8" cy="285.8" r="3.6"/>
<circle class="b" cx="391.4" cy="290.2" r="3.6"/>
<circle class="b" cx="390.8" cy="301.2" r="3.6"/>
<circle class="b" cx="391.0" cy="309.7" r="3.6"/>
<circle class="b" cx="392.2" cy="305.8" r="3.6"/>
<circle class="b" cx="392.0" cy="298.8" r="3.6"/>
<circle class="b" cx="393.3" cy="312.9" r="3.6"/>
<circle class="b" cx="391.8" cy="317.2" r="3.6"/>
<circle class="b" cx="391.0" cy="282.3" r="3.6"/>
<circle class="b" cx="390.3" cy="283.7" r="3.6"/>
<circle class="b" cx="442.7" cy="307.2" r="3.6"/>
<circle class="b" cx="433.6" cy="284.7" r="3.6"/>
<circle class="b" cx="444.4" cy="276.0" r="3.6"/>
<circle class="b" cx="450.5" cy="287.9" r="3.6"/>
<circle class="b" cx="444.8" cy="315.2" r="3.6"/>
<circle class="b" cx="444.5" cy="271.1" r="3.6"/>
<circle class="b" cx="451.9" cy="303.0" r="3.6"/>
<circle class="b" cx="442.4" cy="293.5" r="3.6"/>
<circle class="b" cx="447.0" cy="291.9" r="3.6"/>
<circle class="b" cx="445.9" cy="321.1" r="3.6"/>
<circle class="b" cx="438.5" cy="294.9" r="3.6"/>
<circle class="b" cx="440.6" cy="294.6" r="3.6"/>
<circle class="b" cx="442.1" cy="293.5" r="3.6"/>
<circle class="b" cx="436.2" cy="299.5" r="3.6"/>
<circle class="b" cx="448.3" cy="299.2" r="3.6"/>
<circle class="b" cx="435.4" cy="296.2" r="3.6"/>
<circle class="b" cx="450.4" cy="309.4" r="3.6"/>
<circle class="b" cx="434.4" cy="279.8" r="3.6"/>
<circle class="b" cx="450.6" cy="301.4" r="3.6"/>
<circle class="b" cx="449.3" cy="303.2" r="3.6"/>
<circle class="b" cx="441.2" cy="287.8" r="3.6"/>
<circle class="b" cx="440.0" cy="321.4" r="3.6"/>
<circle class="b" cx="435.8" cy="273.4" r="3.6"/>
<circle class="b" cx="436.4" cy="297.1" r="3.6"/>
<circle class="b" cx="442.6" cy="305.8" r="3.6"/>
<circle class="b" cx="444.7" cy="295.9" r="3.6"/>
<circle class="b" cx="441.3" cy="297.2" r="3.6"/>
<circle class="b" cx="440.3" cy="266.0" r="3.6"/>
<circle class="b" cx="446.7" cy="282.5" r="3.6"/>
<circle class="b" cx="443.2" cy="281.0" r="3.6"/>
<circle class="b" cx="433.9" cy="282.3" r="3.6"/>
<circle class="b" cx="451.0" cy="301.1" r="3.6"/>
<circle class="b" cx="448.9" cy="269.0" r="3.6"/>
<circle class="b" cx="440.7" cy="290.9" r="3.6"/>
<circle class="b" cx="445.6" cy="299.7" r="3.6"/>
<circle class="b" cx="434.1" cy="304.4" r="3.6"/>
<circle class="b" cx="436.1" cy="299.8" r="3.6"/>
<circle class="b" cx="439.7" cy="296.3" r="3.6"/>
<circle class="b" cx="435.9" cy="296.1" r="3.6"/>
<circle class="b" cx="434.8" cy="294.0" r="3.6"/>
<circle class="b" cx="450.5" cy="298.3" r="3.6"/>
<circle class="b" cx="445.2" cy="302.1" r="3.6"/>
<circle class="b" cx="439.8" cy="304.3" r="3.6"/>
<circle class="b" cx="440.2" cy="314.8" r="3.6"/>
<circle class="b" cx="452.9" cy="314.3" r="3.6"/>
<circle class="b" cx="442.2" cy="290.3" r="3.6"/>
<circle class="b" cx="434.9" cy="296.6" r="3.6"/>
<circle class="b" cx="439.7" cy="293.7" r="3.6"/>
<circle class="b" cx="436.1" cy="321.3" r="3.6"/>
<circle class="b" cx="433.3" cy="311.8" r="3.6"/>
<circle class="b" cx="435.8" cy="291.0" r="3.6"/>
<circle class="b" cx="443.8" cy="312.3" r="3.6"/>
<circle class="b" cx="452.6" cy="298.8" r="3.6"/>
<circle class="b" cx="450.2" cy="292.5" r="3.6"/>
<circle class="b" cx="440.2" cy="286.1" r="3.6"/>
<circle class="b" cx="436.2" cy="298.3" r="3.6"/>
<circle class="b" cx="448.5" cy="279.5" r="3.6"/>
<circle class="b" cx="439.5" cy="300.2" r="3.6"/>
<circle class="b" cx="452.7" cy="320.3" r="3.6"/>
<circle class="b" cx="450.0" cy="304.6" r="3.6"/>
<circle class="b" cx="447.7" cy="272.6" r="3.6"/>
<circle class="b" cx="437.4" cy="283.4" r="3.6"/>
<circle class="b" cx="433.4" cy="294.6" r="3.6"/>
<circle class="b" cx="433.4" cy="294.1" r="3.6"/>
<circle class="b" cx="446.8" cy="306.3" r="3.6"/>
<circle class="b" cx="452.1" cy="266.0" r="3.6"/>
<circle class="b" cx="452.8" cy="306.3" r="3.6"/>
<circle class="b" cx="452.1" cy="289.7" r="3.6"/>
<circle class="b" cx="437.4" cy="303.2" r="3.6"/>
<circle class="b" cx="436.8" cy="301.3" r="3.6"/>
<circle class="b" cx="451.0" cy="314.1" r="3.6"/>
<circle class="b" cx="449.8" cy="276.5" r="3.6"/>
<circle class="b" cx="449.0" cy="298.5" r="3.6"/>
<circle class="b" cx="434.5" cy="280.2" r="3.6"/>
<circle class="b" cx="448.6" cy="270.9" r="3.6"/>
<circle class="b" cx="448.0" cy="287.6" r="3.6"/>
<circle class="b" cx="448.7" cy="297.2" r="3.6"/>
<circle class="b" cx="439.5" cy="307.3" r="3.6"/>
<circle class="b" cx="440.8" cy="266.0" r="3.6"/>
<circle class="b" cx="440.9" cy="316.5" r="3.6"/>
<circle class="b" cx="436.2" cy="288.9" r="3.6"/>
<circle class="b" cx="435.4" cy="313.0" r="3.6"/>
<circle class="b" cx="449.1" cy="319.8" r="3.6"/>
<circle class="b" cx="435.8" cy="313.5" r="3.6"/>
<circle class="b" cx="446.1" cy="266.0" r="3.6"/>
<circle class="b" cx="439.9" cy="289.2" r="3.6"/>
<circle class="b" cx="433.1" cy="293.8" r="3.6"/>
<circle class="b" cx="452.4" cy="286.3" r="3.6"/>
<circle class="b" cx="451.7" cy="282.7" r="3.6"/>
<circle class="b" cx="441.6" cy="313.5" r="3.6"/>
<circle class="b" cx="437.1" cy="277.8" r="3.6"/>
<circle class="b" cx="437.9" cy="293.3" r="3.6"/>
<circle class="b" cx="444.6" cy="305.7" r="3.6"/>
<circle class="b" cx="438.0" cy="289.8" r="3.6"/>
<circle class="b" cx="451.2" cy="299.5" r="3.6"/>
<circle class="b" cx="439.9" cy="278.7" r="3.6"/>
<circle class="b" cx="451.1" cy="300.6" r="3.6"/>
<circle class="b" cx="441.3" cy="309.9" r="3.6"/>
<circle class="b" cx="443.5" cy="288.1" r="3.6"/>
<circle class="b" cx="443.4" cy="310.4" r="3.6"/>
<circle class="b" cx="436.5" cy="297.7" r="3.6"/>
<circle class="b" cx="432.9" cy="298.5" r="3.6"/>
<circle class="b" cx="442.4" cy="288.1" r="3.6"/>
<circle class="b" cx="447.4" cy="284.8" r="3.6"/>
<circle class="b" cx="443.3" cy="291.8" r="3.6"/>
<circle class="b" cx="444.0" cy="297.4" r="3.6"/>
<circle class="b" cx="444.1" cy="289.8" r="3.6"/>
<circle class="b" cx="437.8" cy="292.1" r="3.6"/>
<circle class="b" cx="443.1" cy="318.9" r="3.6"/>
<circle class="b" cx="444.1" cy="297.9" r="3.6"/>
<circle class="b" cx="441.8" cy="266.3" r="3.6"/>
<circle class="b" cx="445.2" cy="279.8" r="3.6"/>
<circle class="b" cx="446.8" cy="295.4" r="3.6"/>
<circle class="b" cx="441.9" cy="280.9" r="3.6"/>
<circle class="b" cx="451.8" cy="292.8" r="3.6"/>
<circle class="b" cx="446.9" cy="319.0" r="3.6"/>
<circle class="b" cx="438.0" cy="273.4" r="3.6"/>
<circle class="b" cx="444.1" cy="320.2" r="3.6"/>
<circle class="b" cx="435.6" cy="287.0" r="3.6"/>
<circle class="b" cx="435.3" cy="291.1" r="3.6"/>
<circle class="b" cx="437.7" cy="297.9" r="3.6"/>
<circle class="b" cx="434.3" cy="284.5" r="3.6"/>
<circle class="b" cx="450.9" cy="275.3" r="3.6"/>
<circle class="b" cx="435.9" cy="291.8" r="3.6"/>
<circle class="b" cx="435.7" cy="276.6" r="3.6"/>
<circle class="b" cx="450.6" cy="305.3" r="3.6"/>
<circle class="b" cx="452.0" cy="294.1" r="3.6"/>
<circle class="b" cx="440.8" cy="266.0" r="3.6"/>
<circle class="b" cx="449.6" cy="299.3" r="3.6"/>
<circle class="b" cx="436.1" cy="281.2" r="3.6"/>
<circle class="b" cx="439.7" cy="302.8" r="3.6"/>
<circle class="b" cx="436.8" cy="287.0" r="3.6"/>
<circle class="b" cx="433.2" cy="315.6" r="3.6"/>
<circle class="b" cx="444.0" cy="293.6" r="3.6"/>
<circle class="b" cx="439.5" cy="296.9" r="3.6"/>
<circle class="b" cx="468.5" cy="278.3" r="3.6"/>
<circle class="b" cx="482.3" cy="295.9" r="3.6"/>
<circle class="b" cx="475.9" cy="296.4" r="3.6"/>
<circle class="b" cx="479.5" cy="280.2" r="3.6"/>
<circle class="b" cx="479.2" cy="291.9" r="3.6"/>
<circle class="b" cx="472.8" cy="276.5" r="3.6"/>
<circle class="b" cx="468.3" cy="293.0" r="3.6"/>
<circle class="b" cx="475.9" cy="296.5" r="3.6"/>
<circle class="b" cx="469.7" cy="287.8" r="3.6"/>
<circle class="b" cx="480.8" cy="294.5" r="3.6"/>
<circle class="b" cx="482.5" cy="292.3" r="3.6"/>
<circle class="b" cx="473.5" cy="300.0" r="3.6"/>
<circle class="b" cx="477.0" cy="278.5" r="3.6"/>
<circle class="b" cx="470.6" cy="289.5" r="3.6"/>
<circle class="b" cx="475.5" cy="291.6" r="3.6"/>
<circle class="b" cx="476.5" cy="291.8" r="3.6"/>
<circle class="b" cx="475.2" cy="272.8" r="3.6"/>
<circle class="b" cx="480.5" cy="303.5" r="3.6"/>
<circle class="b" cx="480.6" cy="287.0" r="3.6"/>
<circle class="b" cx="480.7" cy="276.7" r="3.6"/>
<circle class="b" cx="467.8" cy="299.3" r="3.6"/>
<circle class="b" cx="469.3" cy="296.4" r="3.6"/>
<circle class="b" cx="481.2" cy="291.9" r="3.6"/>
<circle class="b" cx="476.3" cy="297.4" r="3.6"/>
<circle class="b" cx="475.1" cy="299.2" r="3.6"/>
<circle class="b" cx="473.7" cy="303.7" r="3.6"/>
<circle class="b" cx="482.1" cy="301.6" r="3.6"/>
<circle class="b" cx="488.1" cy="286.6" r="3.6"/>
<circle class="b" cx="473.3" cy="301.1" r="3.6"/>
<circle class="b" cx="485.7" cy="289.6" r="3.6"/>
<circle class="b" cx="465.6" cy="292.0" r="3.6"/>
<circle class="b" cx="479.9" cy="304.5" r="3.6"/>
<circle class="b" cx="483.8" cy="289.8" r="3.6"/>
<circle class="b" cx="484.5" cy="296.7" r="3.6"/>
<circle class="b" cx="478.4" cy="290.2" r="3.6"/>
<circle class="b" cx="474.2" cy="298.6" r="3.6"/>
<circle class="b" cx="466.6" cy="281.1" r="3.6"/>
<circle class="b" cx="470.1" cy="297.1" r="3.6"/>
<circle class="b" cx="481.8" cy="288.8" r="3.6"/>
<circle class="b" cx="483.8" cy="301.9" r="3.6"/>
<circle class="b" cx="476.8" cy="292.8" r="3.6"/>
<circle class="b" cx="482.4" cy="298.8" r="3.6"/>
<circle class="b" cx="475.7" cy="289.6" r="3.6"/>
<circle class="b" cx="464.9" cy="289.2" r="3.6"/>
<circle class="b" cx="474.6" cy="285.4" r="3.6"/>
<circle class="b" cx="475.9" cy="279.4" r="3.6"/>
<circle class="b" cx="483.1" cy="294.2" r="3.6"/>
<circle class="b" cx="475.7" cy="280.6" r="3.6"/>
<circle class="b" cx="467.3" cy="290.0" r="3.6"/>
<circle class="b" cx="477.9" cy="271.2" r="3.6"/>
<circle class="b" cx="478.5" cy="306.5" r="3.6"/>
<circle class="b" cx="478.4" cy="308.3" r="3.6"/>
<circle class="b" cx="478.9" cy="313.7" r="3.6"/>
<circle class="b" cx="477.5" cy="304.2" r="3.6"/>
<circle class="b" cx="480.3" cy="315.4" r="3.6"/>
<circle class="b" cx="479.5" cy="315.8" r="3.6"/>
<circle class="b" cx="478.3" cy="312.8" r="3.6"/>
<circle class="b" cx="477.7" cy="311.9" r="3.6"/>
<circle class="b" cx="731.2" cy="310.2" r="3.6"/>
<circle class="b" cx="731.2" cy="313.2" r="3.6"/>
</g>
<g stroke-width="1.6">
<circle class="m" cx="395.0" cy="410.2" r="3.7"/>
<circle class="m" cx="386.5" cy="414.7" r="3.7"/>
<circle class="m" cx="359.1" cy="423.3" r="3.7"/>
<circle class="m" cx="363.1" cy="422.8" r="3.7"/>
<circle class="m" cx="374.6" cy="422.8" r="3.7"/>
<circle class="m" cx="374.6" cy="427.3" r="3.7"/>
<circle class="m" cx="387.2" cy="425.8" r="3.7"/>
<circle class="m" cx="391.7" cy="425.8" r="3.7"/>
<circle class="m" cx="383.2" cy="432.3" r="3.7"/>
<circle class="m" cx="383.2" cy="436.8" r="3.7"/>
<circle class="m" cx="388.2" cy="436.3" r="3.7"/>
<circle class="m" cx="399.2" cy="436.3" r="3.7"/>
<circle class="m" cx="363.6" cy="439.3" r="3.7"/>
<circle class="m" cx="374.6" cy="442.3" r="3.7"/>
<circle class="m" cx="413.3" cy="444.9" r="3.7"/>
<circle class="m" cx="349.5" cy="442.4" r="3.7"/>
<circle class="m" cx="401.7" cy="454.4" r="3.7"/>
<circle class="m" cx="350.2" cy="497.1" r="3.7"/>
<circle class="m" cx="361.8" cy="489.9" r="3.7"/>
<circle class="m" cx="392.7" cy="486.1" r="3.7"/>
<circle class="m" cx="380.7" cy="479.4" r="3.7"/>
<circle class="m" cx="431.2" cy="422.8" r="3.7"/>
<circle class="m" cx="448.9" cy="423.1" r="3.7"/>
<circle class="m" cx="435.4" cy="428.8" r="3.7"/>
<circle class="m" cx="444.4" cy="426.5" r="3.7"/>
<circle class="m" cx="451.2" cy="429.2" r="3.7"/>
<circle class="m" cx="423.3" cy="434.8" r="3.7"/>
<circle class="m" cx="423.3" cy="438.2" r="3.7"/>
<circle class="m" cx="431.6" cy="438.2" r="3.7"/>
<circle class="m" cx="435.4" cy="439.3" r="3.7"/>
<circle class="m" cx="400.8" cy="435.9" r="3.7"/>
<circle class="m" cx="412.8" cy="444.9" r="3.7"/>
<circle class="m" cx="421.1" cy="453.9" r="3.7"/>
<circle class="m" cx="412.8" cy="467.5" r="3.7"/>
<circle class="m" cx="417.3" cy="472.8" r="3.7"/>
<circle class="m" cx="406.0" cy="477.3" r="3.7"/>
<circle class="m" cx="406.0" cy="487.8" r="3.7"/>
<circle class="m" cx="409.0" cy="470.5" r="3.7"/>
<circle class="m" cx="422.6" cy="478.8" r="3.7"/>
<circle class="m" cx="420.3" cy="484.8" r="3.7"/>
<circle class="m" cx="424.8" cy="482.6" r="3.7"/>
<circle class="m" cx="418.8" cy="489.3" r="3.7"/>
<circle class="m" cx="420.0" cy="488.9" r="3.7"/>
<circle class="m" cx="434.6" cy="497.1" r="3.7"/>
<circle class="m" cx="442.9" cy="493.4" r="3.7"/>
<circle class="m" cx="452.0" cy="497.9" r="3.7"/>
<circle class="m" cx="479.8" cy="410.7" r="3.7"/>
<circle class="m" cx="474.6" cy="413.0" r="3.7"/>
<circle class="m" cx="469.7" cy="419.8" r="3.7"/>
<circle class="m" cx="475.3" cy="418.2" r="3.7"/>
<circle class="m" cx="466.7" cy="431.0" r="3.7"/>
<circle class="m" cx="477.6" cy="428.8" r="3.7"/>
<circle class="m" cx="504.7" cy="419.0" r="3.7"/>
<circle class="m" cx="504.7" cy="426.5" r="3.7"/>
<circle class="m" cx="510.3" cy="429.5" r="3.7"/>
<circle class="m" cx="504.7" cy="430.3" r="3.7"/>
<circle class="m" cx="485.1" cy="434.8" r="3.7"/>
<circle class="m" cx="497.9" cy="437.8" r="3.7"/>
<circle class="m" cx="474.6" cy="437.8" r="3.7"/>
<circle class="m" cx="485.1" cy="439.3" r="3.7"/>
<circle class="m" cx="497.9" cy="437.4" r="3.7"/>
<circle class="m" cx="466.3" cy="432.1" r="3.7"/>
<circle class="m" cx="490.4" cy="481.8" r="3.7"/>
<circle class="m" cx="497.9" cy="472.8" r="3.7"/>
<circle class="m" cx="512.2" cy="450.9" r="3.7"/>
<circle class="m" cx="512.2" cy="480.3" r="3.7"/>
<circle class="m" cx="466.7" cy="496.8" r="3.7"/>
<circle class="m" cx="497.9" cy="494.5" r="3.7"/>
<circle class="m" cx="475.0" cy="508.1" r="3.7"/>
<circle class="m" cx="479.1" cy="511.5" r="3.7"/>
<circle class="m" cx="488.1" cy="493.4" r="3.7"/>
<circle class="m" cx="490.4" cy="483.6" r="3.7"/>
<circle class="m" cx="528.7" cy="391.5" r="3.7"/>
<circle class="m" cx="525.7" cy="419.8" r="3.7"/>
<circle class="m" cx="505.8" cy="419.0" r="3.7"/>
<circle class="m" cx="531.0" cy="428.8" r="3.7"/>
<circle class="m" cx="525.3" cy="432.6" r="3.7"/>
<circle class="m" cx="535.9" cy="432.6" r="3.7"/>
<circle class="m" cx="529.1" cy="437.8" r="3.7"/>
<circle class="m" cx="498.0" cy="437.7" r="3.7"/>
<circle class="m" cx="513.1" cy="449.4" r="3.7"/>
<circle class="m" cx="507.8" cy="450.9" r="3.7"/>
<circle class="m" cx="527.4" cy="454.7" r="3.7"/>
<circle class="m" cx="531.1" cy="448.7" r="3.7"/>
<circle class="m" cx="519.1" cy="463.0" r="3.7"/>
<circle class="m" cx="534.9" cy="466.0" r="3.7"/>
<circle class="m" cx="512.3" cy="464.5" r="3.7"/>
<circle class="m" cx="498.0" cy="472.8" r="3.7"/>
<circle class="m" cx="513.1" cy="479.5" r="3.7"/>
<circle class="m" cx="527.4" cy="472.8" r="3.7"/>
<circle class="m" cx="531.1" cy="475.8" r="3.7"/>
<circle class="m" cx="533.0" cy="490.3" r="3.7"/>
<circle class="m" cx="527.4" cy="495.6" r="3.7"/>
<circle class="m" cx="527.4" cy="435.1" r="3.7"/>
<circle class="m" cx="533.0" cy="433.6" r="3.7"/>
<circle class="m" cx="498.0" cy="494.5" r="3.7"/>
<circle class="m" cx="525.9" cy="509.4" r="3.7"/>
<circle class="m" cx="534.2" cy="515.5" r="3.7"/>
<circle class="m" cx="525.9" cy="526.4" r="3.7"/>
<circle class="m" cx="349.0" cy="440.1" r="3.7"/>
<circle class="m" cx="349.5" cy="449.1" r="3.7"/>
<circle class="m" cx="350.0" cy="467.1" r="3.7"/>
<circle class="m" cx="349.0" cy="473.1" r="3.7"/>
<circle class="m" cx="350.5" cy="478.1" r="3.7"/>
<circle class="m" cx="354.0" cy="461.1" r="3.7"/>
<circle class="m" cx="356.0" cy="469.1" r="3.7"/>
<circle class="m" cx="358.0" cy="475.1" r="3.7"/>
<circle class="m" cx="352.5" cy="472.1" r="3.7"/>
<circle class="m" cx="356.5" cy="447.1" r="3.7"/>
<circle class="m" cx="359.5" cy="461.1" r="3.7"/>
<circle class="m" cx="363.0" cy="467.1" r="3.7"/>
<circle class="m" cx="366.0" cy="472.1" r="3.7"/>
<circle class="m" cx="367.0" cy="463.1" r="3.7"/>
<circle class="m" cx="369.5" cy="470.1" r="3.7"/>
<circle class="m" cx="371.5" cy="476.1" r="3.7"/>
<circle class="m" cx="376.0" cy="470.1" r="3.7"/>
<circle class="m" cx="378.0" cy="464.1" r="3.7"/>
<circle class="m" cx="370.0" cy="452.1" r="3.7"/>
<circle class="m" cx="381.0" cy="452.1" r="3.7"/>
<circle class="m" cx="381.5" cy="459.1" r="3.7"/>
<circle class="m" cx="381.0" cy="466.1" r="3.7"/>
<circle class="m" cx="382.0" cy="473.1" r="3.7"/>
<circle class="m" cx="391.2" cy="481.4" r="3.7"/>
<circle class="m" cx="392.2" cy="450.9" r="3.7"/>
<circle class="m" cx="395.7" cy="442.9" r="3.7"/>
<circle class="m" cx="391.5" cy="462.3" r="3.7"/>
<circle class="m" cx="393.8" cy="461.9" r="3.7"/>
<circle class="m" cx="388.2" cy="453.9" r="3.7"/>
<circle class="m" cx="393.0" cy="451.4" r="3.7"/>
<circle class="m" cx="395.7" cy="467.7" r="3.7"/>
<circle class="m" cx="393.2" cy="484.0" r="3.7"/>
<circle class="m" cx="393.5" cy="447.9" r="3.7"/>
<circle class="m" cx="392.8" cy="481.1" r="3.7"/>
<circle class="m" cx="390.3" cy="473.0" r="3.7"/>
<circle class="m" cx="436.9" cy="493.0" r="3.7"/>
<circle class="m" cx="454.2" cy="455.4" r="3.7"/>
<circle class="m" cx="448.4" cy="453.7" r="3.7"/>
<circle class="m" cx="432.6" cy="450.6" r="3.7"/>
<circle class="m" cx="438.3" cy="487.5" r="3.7"/>
<circle class="m" cx="434.6" cy="475.5" r="3.7"/>
<circle class="m" cx="436.1" cy="454.5" r="3.7"/>
<circle class="m" cx="452.1" cy="486.6" r="3.7"/>
<circle class="m" cx="447.8" cy="492.6" r="3.7"/>
<circle class="m" cx="434.2" cy="492.6" r="3.7"/>
<circle class="m" cx="454.7" cy="450.0" r="3.7"/>
<circle class="m" cx="448.2" cy="492.8" r="3.7"/>
<circle class="m" cx="450.5" cy="499.2" r="3.7"/>
<circle class="m" cx="443.8" cy="434.1" r="3.7"/>
<circle class="m" cx="448.5" cy="476.3" r="3.7"/>
<circle class="m" cx="446.3" cy="434.0" r="3.7"/>
<circle class="m" cx="453.6" cy="459.4" r="3.7"/>
<circle class="m" cx="438.4" cy="475.4" r="3.7"/>
<circle class="m" cx="454.9" cy="470.5" r="3.7"/>
<circle class="m" cx="437.3" cy="454.8" r="3.7"/>
<circle class="m" cx="433.9" cy="443.6" r="3.7"/>
<circle class="m" cx="453.1" cy="444.3" r="3.7"/>
<circle class="m" cx="451.0" cy="496.0" r="3.7"/>
<circle class="m" cx="440.6" cy="445.7" r="3.7"/>
<circle class="m" cx="434.0" cy="450.3" r="3.7"/>
<circle class="m" cx="439.8" cy="426.0" r="3.7"/>
<circle class="m" cx="440.2" cy="462.6" r="3.7"/>
<circle class="m" cx="439.3" cy="434.8" r="3.7"/>
<circle class="m" cx="437.9" cy="426.8" r="3.7"/>
<circle class="m" cx="447.4" cy="478.5" r="3.7"/>
<circle class="m" cx="451.6" cy="484.9" r="3.7"/>
<circle class="m" cx="439.5" cy="457.0" r="3.7"/>
<circle class="m" cx="438.6" cy="428.2" r="3.7"/>
<circle class="m" cx="448.0" cy="494.1" r="3.7"/>
<circle class="m" cx="429.5" cy="486.7" r="3.7"/>
<circle class="m" cx="449.3" cy="491.1" r="3.7"/>
<circle class="m" cx="433.5" cy="472.0" r="3.7"/>
<circle class="m" cx="454.0" cy="469.9" r="3.7"/>
<circle class="m" cx="449.4" cy="464.2" r="3.7"/>
<circle class="m" cx="432.9" cy="429.2" r="3.7"/>
<circle class="m" cx="444.3" cy="474.0" r="3.7"/>
<circle class="m" cx="454.5" cy="462.8" r="3.7"/>
<circle class="m" cx="440.9" cy="437.1" r="3.7"/>
<circle class="m" cx="438.3" cy="428.9" r="3.7"/>
<circle class="m" cx="445.1" cy="449.2" r="3.7"/>
<circle class="m" cx="441.7" cy="429.3" r="3.7"/>
<circle class="m" cx="441.9" cy="445.9" r="3.7"/>
<circle class="m" cx="454.5" cy="449.5" r="3.7"/>
<circle class="m" cx="430.1" cy="471.6" r="3.7"/>
<circle class="m" cx="440.4" cy="471.1" r="3.7"/>
<circle class="m" cx="453.6" cy="433.1" r="3.7"/>
<circle class="m" cx="438.3" cy="472.1" r="3.7"/>
<circle class="m" cx="436.2" cy="428.2" r="3.7"/>
<circle class="m" cx="438.6" cy="420.9" r="3.7"/>
<circle class="m" cx="441.6" cy="484.5" r="3.7"/>
<circle class="m" cx="432.3" cy="467.7" r="3.7"/>
<circle class="m" cx="452.8" cy="485.7" r="3.7"/>
<circle class="m" cx="431.0" cy="486.4" r="3.7"/>
<circle class="m" cx="430.9" cy="466.9" r="3.7"/>
<circle class="m" cx="440.3" cy="442.1" r="3.7"/>
<circle class="m" cx="441.2" cy="450.0" r="3.7"/>
<circle class="m" cx="432.4" cy="441.0" r="3.7"/>
<circle class="m" cx="434.5" cy="462.6" r="3.7"/>
<circle class="m" cx="441.7" cy="474.6" r="3.7"/>
<circle class="m" cx="449.6" cy="491.2" r="3.7"/>
<circle class="m" cx="436.8" cy="488.4" r="3.7"/>
<circle class="m" cx="434.7" cy="430.8" r="3.7"/>
<circle class="m" cx="439.4" cy="449.6" r="3.7"/>
<circle class="m" cx="450.4" cy="473.4" r="3.7"/>
<circle class="m" cx="434.6" cy="457.9" r="3.7"/>
<circle class="m" cx="437.9" cy="459.6" r="3.7"/>
<circle class="m" cx="445.9" cy="468.6" r="3.7"/>
<circle class="m" cx="440.0" cy="458.9" r="3.7"/>
<circle class="m" cx="450.4" cy="442.8" r="3.7"/>
<circle class="m" cx="431.1" cy="452.9" r="3.7"/>
<circle class="m" cx="439.1" cy="430.6" r="3.7"/>
<circle class="m" cx="437.7" cy="431.3" r="3.7"/>
<circle class="m" cx="447.8" cy="424.8" r="3.7"/>
<circle class="m" cx="430.1" cy="459.6" r="3.7"/>
<circle class="m" cx="452.0" cy="493.3" r="3.7"/>
<circle class="m" cx="450.7" cy="460.9" r="3.7"/>
<circle class="m" cx="432.3" cy="499.7" r="3.7"/>
<circle class="m" cx="450.9" cy="467.5" r="3.7"/>
<circle class="m" cx="438.0" cy="452.8" r="3.7"/>
<circle class="m" cx="449.8" cy="442.9" r="3.7"/>
<circle class="m" cx="449.1" cy="435.0" r="3.7"/>
<circle class="m" cx="430.4" cy="450.6" r="3.7"/>
<circle class="m" cx="452.5" cy="430.9" r="3.7"/>
<circle class="m" cx="432.0" cy="473.7" r="3.7"/>
<circle class="m" cx="441.1" cy="456.1" r="3.7"/>
<circle class="m" cx="445.6" cy="476.0" r="3.7"/>
<circle class="m" cx="451.5" cy="438.4" r="3.7"/>
<circle class="m" cx="451.4" cy="465.1" r="3.7"/>
<circle class="m" cx="439.2" cy="443.1" r="3.7"/>
<circle class="m" cx="435.9" cy="440.3" r="3.7"/>
<circle class="m" cx="452.5" cy="450.7" r="3.7"/>
<circle class="m" cx="440.3" cy="429.4" r="3.7"/>
<circle class="m" cx="446.4" cy="458.9" r="3.7"/>
<circle class="m" cx="430.5" cy="484.1" r="3.7"/>
<circle class="m" cx="435.5" cy="453.5" r="3.7"/>
<circle class="m" cx="483.8" cy="450.9" r="3.7"/>
<circle class="m" cx="491.6" cy="467.7" r="3.7"/>
<circle class="m" cx="481.6" cy="449.7" r="3.7"/>
<circle class="m" cx="489.3" cy="469.9" r="3.7"/>
<circle class="m" cx="484.5" cy="482.1" r="3.7"/>
<circle class="m" cx="480.8" cy="433.8" r="3.7"/>
<circle class="m" cx="492.9" cy="461.1" r="3.7"/>
<circle class="m" cx="476.1" cy="443.9" r="3.7"/>
<circle class="m" cx="487.5" cy="463.9" r="3.7"/>
<circle class="m" cx="482.9" cy="443.3" r="3.7"/>
<circle class="m" cx="468.7" cy="478.2" r="3.7"/>
<circle class="m" cx="480.8" cy="462.2" r="3.7"/>
<circle class="m" cx="466.8" cy="460.7" r="3.7"/>
<circle class="m" cx="475.5" cy="451.2" r="3.7"/>
<circle class="m" cx="472.0" cy="468.7" r="3.7"/>
<circle class="m" cx="475.6" cy="463.0" r="3.7"/>
<circle class="m" cx="476.8" cy="461.9" r="3.7"/>
<circle class="m" cx="472.3" cy="446.0" r="3.7"/>
<circle class="m" cx="473.1" cy="464.3" r="3.7"/>
<circle class="m" cx="481.8" cy="465.2" r="3.7"/>
<circle class="m" cx="470.0" cy="452.0" r="3.7"/>
<circle class="m" cx="479.3" cy="450.7" r="3.7"/>
<circle class="m" cx="483.8" cy="463.3" r="3.7"/>
<circle class="m" cx="482.0" cy="443.1" r="3.7"/>
<circle class="m" cx="478.0" cy="449.1" r="3.7"/>
<circle class="m" cx="475.0" cy="468.8" r="3.7"/>
<circle class="m" cx="480.3" cy="466.0" r="3.7"/>
<circle class="m" cx="473.0" cy="482.7" r="3.7"/>
<circle class="m" cx="475.7" cy="454.3" r="3.7"/>
<circle class="m" cx="474.9" cy="433.4" r="3.7"/>
<circle class="m" cx="489.8" cy="443.8" r="3.7"/>
<circle class="m" cx="487.3" cy="440.4" r="3.7"/>
<circle class="m" cx="473.5" cy="452.2" r="3.7"/>
<circle class="m" cx="465.6" cy="464.0" r="3.7"/>
<circle class="m" cx="483.8" cy="474.2" r="3.7"/>
<circle class="m" cx="481.2" cy="449.3" r="3.7"/>
<circle class="m" cx="471.4" cy="436.5" r="3.7"/>
<circle class="m" cx="474.0" cy="476.1" r="3.7"/>
<circle class="m" cx="481.1" cy="434.5" r="3.7"/>
<circle class="m" cx="475.8" cy="472.8" r="3.7"/>
<circle class="m" cx="731.2" cy="441.4" r="3.7"/>
<circle class="b" cx="359.4" cy="410.7" r="3.6"/>
<circle class="b" cx="395.0" cy="415.7" r="3.6"/>
<circle class="b" cx="413.3" cy="421.6" r="3.6"/>
<circle class="b" cx="417.8" cy="428.3" r="3.6"/>
<circle class="b" cx="375.3" cy="427.8" r="3.6"/>
<circle class="b" cx="375.3" cy="431.3" r="3.6"/>
<circle class="b" cx="362.1" cy="434.8" r="3.6"/>
<circle class="b" cx="367.3" cy="442.3" r="3.6"/>
<circle class="b" cx="380.7" cy="443.3" r="3.6"/>
<circle class="b" cx="380.7" cy="447.4" r="3.6"/>
<circle class="b" cx="394.7" cy="438.8" r="3.6"/>
<circle class="b" cx="399.2" cy="441.3" r="3.6"/>
<circle class="b" cx="402.2" cy="445.4" r="3.6"/>
<circle class="b" cx="419.3" cy="446.4" r="3.6"/>
<circle class="b" cx="349.4" cy="482.7" r="3.6"/>
<circle class="b" cx="385.9" cy="486.1" r="3.6"/>
<circle class="b" cx="362.6" cy="481.2" r="3.6"/>
<circle class="b" cx="362.6" cy="469.5" r="3.6"/>
<circle class="b" cx="362.6" cy="476.3" r="3.6"/>
<circle class="b" cx="424.1" cy="433.7" r="3.6"/>
<circle class="b" cx="431.6" cy="434.8" r="3.6"/>
<circle class="b" cx="438.8" cy="420.5" r="3.6"/>
<circle class="b" cx="444.4" cy="425.0" r="3.6"/>
<circle class="b" cx="436.1" cy="428.8" r="3.6"/>
<circle class="b" cx="452.0" cy="428.8" r="3.6"/>
<circle class="b" cx="452.7" cy="437.1" r="3.6"/>
<circle class="b" cx="424.1" cy="446.4" r="3.6"/>
<circle class="b" cx="411.3" cy="454.7" r="3.6"/>
<circle class="b" cx="421.1" cy="453.9" r="3.6"/>
<circle class="b" cx="410.0" cy="459.1" r="3.6"/>
<circle class="b" cx="411.5" cy="462.1" r="3.6"/>
<circle class="b" cx="402.0" cy="454.1" r="3.6"/>
<circle class="b" cx="402.0" cy="458.6" r="3.6"/>
<circle class="b" cx="402.0" cy="463.1" r="3.6"/>
<circle class="b" cx="402.0" cy="467.1" r="3.6"/>
<circle class="b" cx="402.5" cy="470.1" r="3.6"/>
<circle class="b" cx="412.8" cy="467.5" r="3.6"/>
<circle class="b" cx="421.8" cy="467.5" r="3.6"/>
<circle class="b" cx="417.3" cy="472.8" r="3.6"/>
<circle class="b" cx="406.0" cy="477.3" r="3.6"/>
<circle class="b" cx="406.4" cy="487.7" r="3.6"/>
<circle class="b" cx="430.9" cy="509.6" r="3.6"/>
<circle class="b" cx="437.3" cy="509.6" r="3.6"/>
<circle class="b" cx="439.9" cy="502.1" r="3.6"/>
<circle class="b" cx="435.4" cy="495.7" r="3.6"/>
<circle class="b" cx="436.9" cy="490.4" r="3.6"/>
<circle class="b" cx="448.9" cy="498.7" r="3.6"/>
<circle class="b" cx="449.7" cy="492.6" r="3.6"/>
<circle class="b" cx="455.0" cy="492.3" r="3.6"/>
<circle class="b" cx="488.0" cy="398.3" r="3.6"/>
<circle class="b" cx="488.0" cy="410.0" r="3.6"/>
<circle class="b" cx="483.6" cy="417.1" r="3.6"/>
<circle class="b" cx="488.1" cy="424.4" r="3.6"/>
<circle class="b" cx="477.6" cy="428.0" r="3.6"/>
<circle class="b" cx="477.9" cy="428.6" r="3.6"/>
<circle class="b" cx="475.3" cy="436.6" r="3.6"/>
<circle class="b" cx="491.1" cy="434.4" r="3.6"/>
<circle class="b" cx="491.1" cy="442.6" r="3.6"/>
<circle class="b" cx="491.1" cy="447.9" r="3.6"/>
<circle class="b" cx="497.9" cy="459.2" r="3.6"/>
<circle class="b" cx="497.9" cy="466.7" r="3.6"/>
<circle class="b" cx="491.1" cy="472.0" r="3.6"/>
<circle class="b" cx="504.7" cy="472.8" r="3.6"/>
<circle class="b" cx="504.7" cy="477.3" r="3.6"/>
<circle class="b" cx="504.7" cy="481.1" r="3.6"/>
<circle class="b" cx="504.7" cy="484.1" r="3.6"/>
<circle class="b" cx="510.3" cy="443.4" r="3.6"/>
<circle class="b" cx="481.4" cy="470.5" r="3.6"/>
<circle class="b" cx="475.3" cy="515.2" r="3.6"/>
<circle class="b" cx="486.6" cy="510.7" r="3.6"/>
<circle class="b" cx="486.6" cy="491.1" r="3.6"/>
<circle class="b" cx="486.6" cy="497.1" r="3.6"/>
<circle class="b" cx="474.6" cy="492.1" r="3.6"/>
<circle class="b" cx="474.6" cy="495.1" r="3.6"/>
<circle class="b" cx="474.6" cy="498.1" r="3.6"/>
<circle class="b" cx="474.6" cy="501.1" r="3.6"/>
<circle class="b" cx="476.5" cy="493.6" r="3.6"/>
<circle class="b" cx="477.5" cy="497.1" r="3.6"/>
<circle class="b" cx="480.6" cy="497.1" r="3.6"/>
<circle class="b" cx="478.5" cy="500.1" r="3.6"/>
<circle class="b" cx="525.3" cy="397.2" r="3.6"/>
<circle class="b" cx="529.8" cy="394.5" r="3.6"/>
<circle class="b" cx="533.6" cy="394.9" r="3.6"/>
<circle class="b" cx="531.0" cy="430.7" r="3.6"/>
<circle class="b" cx="517.2" cy="443.8" r="3.6"/>
<circle class="b" cx="525.1" cy="444.5" r="3.6"/>
<circle class="b" cx="534.2" cy="447.2" r="3.6"/>
<circle class="b" cx="519.1" cy="451.3" r="3.6"/>
<circle class="b" cx="510.0" cy="455.4" r="3.6"/>
<circle class="b" cx="513.8" cy="455.4" r="3.6"/>
<circle class="b" cx="517.6" cy="455.4" r="3.6"/>
<circle class="b" cx="525.0" cy="455.4" r="3.6"/>
<circle class="b" cx="529.0" cy="455.4" r="3.6"/>
<circle class="b" cx="528.9" cy="449.4" r="3.6"/>
<circle class="b" cx="510.8" cy="465.2" r="3.6"/>
<circle class="b" cx="513.1" cy="470.5" r="3.6"/>
<circle class="b" cx="519.1" cy="472.0" r="3.6"/>
<circle class="b" cx="513.1" cy="476.5" r="3.6"/>
<circle class="b" cx="527.4" cy="469.8" r="3.6"/>
<circle class="b" cx="530.4" cy="469.8" r="3.6"/>
<circle class="b" cx="531.1" cy="475.0" r="3.6"/>
<circle class="b" cx="527.8" cy="491.1" r="3.6"/>
<circle class="b" cx="527.4" cy="490.7" r="3.6"/>
<circle class="b" cx="534.9" cy="509.6" r="3.6"/>
<circle class="b" cx="349.0" cy="454.6" r="3.6"/>
<circle class="b" cx="349.0" cy="457.1" r="3.6"/>
<circle class="b" cx="348.6" cy="460.1" r="3.6"/>
<circle class="b" cx="349.2" cy="463.1" r="3.6"/>
<circle class="b" cx="349.0" cy="466.1" r="3.6"/>
<circle class="b" cx="349.0" cy="469.1" r="3.6"/>
<circle class="b" cx="348.8" cy="472.1" r="3.6"/>
<circle class="b" cx="349.0" cy="475.1" r="3.6"/>
<circle class="b" cx="349.2" cy="478.1" r="3.6"/>
<circle class="b" cx="349.0" cy="480.1" r="3.6"/>
<circle class="b" cx="353.5" cy="456.1" r="3.6"/>
<circle class="b" cx="356.0" cy="458.1" r="3.6"/>
<circle class="b" cx="357.3" cy="451.6" r="3.6"/>
<circle class="b" cx="357.3" cy="455.1" r="3.6"/>
<circle class="b" cx="358.5" cy="458.6" r="3.6"/>
<circle class="b" cx="361.0" cy="453.1" r="3.6"/>
<circle class="b" cx="362.5" cy="450.6" r="3.6"/>
<circle class="b" cx="362.5" cy="456.1" r="3.6"/>
<circle class="b" cx="364.0" cy="459.1" r="3.6"/>
<circle class="b" cx="366.4" cy="450.7" r="3.6"/>
<circle class="b" cx="366.4" cy="455.1" r="3.6"/>
<circle class="b" cx="367.5" cy="458.1" r="3.6"/>
<circle class="b" cx="373.9" cy="455.1" r="3.6"/>
<circle class="b" cx="373.9" cy="459.7" r="3.6"/>
<circle class="b" cx="373.9" cy="464.1" r="3.6"/>
<circle class="b" cx="372.5" cy="466.6" r="3.6"/>
<circle class="b" cx="381.0" cy="450.1" r="3.6"/>
<circle class="b" cx="381.0" cy="453.6" r="3.6"/>
<circle class="b" cx="381.0" cy="456.1" r="3.6"/>
<circle class="b" cx="391.6" cy="471.0" r="3.6"/>
<circle class="b" cx="392.5" cy="447.5" r="3.6"/>
<circle class="b" cx="390.9" cy="446.9" r="3.6"/>
<circle class="b" cx="391.7" cy="465.2" r="3.6"/>
<circle class="b" cx="393.0" cy="447.4" r="3.6"/>
<circle class="b" cx="392.2" cy="448.3" r="3.6"/>
<circle class="b" cx="390.1" cy="449.6" r="3.6"/>
<circle class="b" cx="392.8" cy="453.6" r="3.6"/>
<circle class="b" cx="390.0" cy="468.0" r="3.6"/>
<circle class="b" cx="390.0" cy="460.7" r="3.6"/>
<circle class="b" cx="392.2" cy="479.4" r="3.6"/>
<circle class="b" cx="391.8" cy="456.3" r="3.6"/>
<circle class="b" cx="392.2" cy="457.1" r="3.6"/>
<circle class="b" cx="392.3" cy="477.7" r="3.6"/>
<circle class="b" cx="392.5" cy="470.5" r="3.6"/>
<circle class="b" cx="393.2" cy="459.7" r="3.6"/>
<circle class="b" cx="391.5" cy="447.0" r="3.6"/>
<circle class="b" cx="391.8" cy="452.9" r="3.6"/>
<circle class="b" cx="391.4" cy="457.3" r="3.6"/>
<circle class="b" cx="390.8" cy="468.3" r="3.6"/>
<circle class="b" cx="391.0" cy="476.8" r="3.6"/>
<circle class="b" cx="392.2" cy="472.9" r="3.6"/>
<circle class="b" cx="392.0" cy="465.9" r="3.6"/>
<circle class="b" cx="393.3" cy="480.0" r="3.6"/>
<circle class="b" cx="391.8" cy="484.3" r="3.6"/>
<circle class="b" cx="391.0" cy="449.4" r="3.6"/>
<circle class="b" cx="390.3" cy="450.8" r="3.6"/>
<circle class="b" cx="442.7" cy="474.3" r="3.6"/>
<circle class="b" cx="433.6" cy="451.8" r="3.6"/>
<circle class="b" cx="444.4" cy="443.1" r="3.6"/>
<circle class="b" cx="450.5" cy="455.0" r="3.6"/>
<circle class="b" cx="444.8" cy="482.3" r="3.6"/>
<circle class="b" cx="444.5" cy="438.2" r="3.6"/>
<circle class="b" cx="451.9" cy="470.1" r="3.6"/>
<circle class="b" cx="442.4" cy="460.6" r="3.6"/>
<circle class="b" cx="447.0" cy="459.0" r="3.6"/>
<circle class="b" cx="445.9" cy="488.2" r="3.6"/>
<circle class="b" cx="438.5" cy="462.0" r="3.6"/>
<circle class="b" cx="440.6" cy="461.7" r="3.6"/>
<circle class="b" cx="442.1" cy="460.6" r="3.6"/>
<circle class="b" cx="436.2" cy="466.6" r="3.6"/>
<circle class="b" cx="448.3" cy="466.3" r="3.6"/>
<circle class="b" cx="435.4" cy="463.3" r="3.6"/>
<circle class="b" cx="450.4" cy="476.5" r="3.6"/>
<circle class="b" cx="434.4" cy="446.9" r="3.6"/>
<circle class="b" cx="450.6" cy="468.5" r="3.6"/>
<circle class="b" cx="449.3" cy="470.3" r="3.6"/>
<circle class="b" cx="441.2" cy="454.9" r="3.6"/>
<circle class="b" cx="440.0" cy="488.5" r="3.6"/>
<circle class="b" cx="435.8" cy="440.5" r="3.6"/>
<circle class="b" cx="436.4" cy="464.2" r="3.6"/>
<circle class="b" cx="442.6" cy="472.9" r="3.6"/>
<circle class="b" cx="444.7" cy="463.0" r="3.6"/>
<circle class="b" cx="441.3" cy="464.3" r="3.6"/>
<circle class="b" cx="440.3" cy="433.1" r="3.6"/>
<circle class="b" cx="446.7" cy="449.6" r="3.6"/>
<circle class="b" cx="443.2" cy="448.1" r="3.6"/>
<circle class="b" cx="433.9" cy="449.4" r="3.6"/>
<circle class="b" cx="451.0" cy="468.2" r="3.6"/>
<circle class="b" cx="448.9" cy="436.1" r="3.6"/>
<circle class="b" cx="440.7" cy="458.0" r="3.6"/>
<circle class="b" cx="445.6" cy="466.8" r="3.6"/>
<circle class="b" cx="434.1" cy="471.5" r="3.6"/>
<circle class="b" cx="436.1" cy="466.9" r="3.6"/>
<circle class="b" cx="439.7" cy="463.4" r="3.6"/>
<circle class="b" cx="435.9" cy="463.2" r="3.6"/>
<circle class="b" cx="434.8" cy="461.1" r="3.6"/>
<circle class="b" cx="450.5" cy="465.4" r="3.6"/>
<circle class="b" cx="445.2" cy="469.2" r="3.6"/>
<circle class="b" cx="439.8" cy="471.4" r="3.6"/>
<circle class="b" cx="440.2" cy="481.9" r="3.6"/>
<circle class="b" cx="452.9" cy="481.4" r="3.6"/>
<circle class="b" cx="442.2" cy="457.4" r="3.6"/>
<circle class="b" cx="434.9" cy="463.7" r="3.6"/>
<circle class="b" cx="439.7" cy="460.8" r="3.6"/>
<circle class="b" cx="436.1" cy="488.4" r="3.6"/>
<circle class="b" cx="433.3" cy="478.9" r="3.6"/>
<circle class="b" cx="435.8" cy="458.1" r="3.6"/>
<circle class="b" cx="443.8" cy="479.4" r="3.6"/>
<circle class="b" cx="452.6" cy="465.9" r="3.6"/>
<circle class="b" cx="450.2" cy="459.6" r="3.6"/>
<circle class="b" cx="440.2" cy="453.2" r="3.6"/>
<circle class="b" cx="436.2" cy="465.4" r="3.6"/>
<circle class="b" cx="448.5" cy="446.6" r="3.6"/>
<circle class="b" cx="439.5" cy="467.3" r="3.6"/>
<circle class="b" cx="452.7" cy="487.4" r="3.6"/>
<circle class="b" cx="450.0" cy="471.7" r="3.6"/>
<circle class="b" cx="447.7" cy="439.7" r="3.6"/>
<circle class="b" cx="437.4" cy="450.5" r="3.6"/>
<circle class="b" cx="433.4" cy="461.7" r="3.6"/>
<circle class="b" cx="433.4" cy="461.2" r="3.6"/>
<circle class="b" cx="446.8" cy="473.4" r="3.6"/>
<circle class="b" cx="452.1" cy="433.1" r="3.6"/>
<circle class="b" cx="452.8" cy="473.4" r="3.6"/>
<circle class="b" cx="452.1" cy="456.8" r="3.6"/>
<circle class="b" cx="437.4" cy="470.3" r="3.6"/>
<circle class="b" cx="436.8" cy="468.4" r="3.6"/>
<circle class="b" cx="451.0" cy="481.2" r="3.6"/>
<circle class="b" cx="449.8" cy="443.6" r="3.6"/>
<circle class="b" cx="449.0" cy="465.6" r="3.6"/>
<circle class="b" cx="434.5" cy="447.3" r="3.6"/>
<circle class="b" cx="448.6" cy="438.0" r="3.6"/>
<circle class="b" cx="448.0" cy="454.7" r="3.6"/>
<circle class="b" cx="448.7" cy="464.3" r="3.6"/>
<circle class="b" cx="439.5" cy="474.4" r="3.6"/>
<circle class="b" cx="440.8" cy="433.1" r="3.6"/>
<circle class="b" cx="440.9" cy="483.6" r="3.6"/>
<circle class="b" cx="436.2" cy="456.0" r="3.6"/>
<circle class="b" cx="435.4" cy="480.1" r="3.6"/>
<circle class="b" cx="449.1" cy="486.9" r="3.6"/>
<circle class="b" cx="435.8" cy="480.6" r="3.6"/>
<circle class="b" cx="446.1" cy="433.1" r="3.6"/>
<circle class="b" cx="439.9" cy="456.3" r="3.6"/>
<circle class="b" cx="433.1" cy="460.9" r="3.6"/>
<circle class="b" cx="452.4" cy="453.4" r="3.6"/>
<circle class="b" cx="451.7" cy="449.8" r="3.6"/>
<circle class="b" cx="441.6" cy="480.6" r="3.6"/>
<circle class="b" cx="437.1" cy="444.9" r="3.6"/>
<circle class="b" cx="437.9" cy="460.4" r="3.6"/>
<circle class="b" cx="444.6" cy="472.8" r="3.6"/>
<circle class="b" cx="438.0" cy="456.9" r="3.6"/>
<circle class="b" cx="451.2" cy="466.6" r="3.6"/>
<circle class="b" cx="439.9" cy="445.8" r="3.6"/>
<circle class="b" cx="451.1" cy="467.7" r="3.6"/>
<circle class="b" cx="441.3" cy="477.0" r="3.6"/>
<circle class="b" cx="443.5" cy="455.2" r="3.6"/>
<circle class="b" cx="443.4" cy="477.5" r="3.6"/>
<circle class="b" cx="436.5" cy="464.8" r="3.6"/>
<circle class="b" cx="432.9" cy="465.6" r="3.6"/>
<circle class="b" cx="442.4" cy="455.2" r="3.6"/>
<circle class="b" cx="447.4" cy="451.9" r="3.6"/>
<circle class="b" cx="443.3" cy="458.9" r="3.6"/>
<circle class="b" cx="444.0" cy="464.5" r="3.6"/>
<circle class="b" cx="444.1" cy="456.9" r="3.6"/>
<circle class="b" cx="437.8" cy="459.2" r="3.6"/>
<circle class="b" cx="443.1" cy="486.0" r="3.6"/>
<circle class="b" cx="444.1" cy="465.0" r="3.6"/>
<circle class="b" cx="441.8" cy="433.4" r="3.6"/>
<circle class="b" cx="445.2" cy="446.9" r="3.6"/>
<circle class="b" cx="446.8" cy="462.5" r="3.6"/>
<circle class="b" cx="441.9" cy="448.0" r="3.6"/>
<circle class="b" cx="451.8" cy="459.9" r="3.6"/>
<circle class="b" cx="446.9" cy="486.1" r="3.6"/>
<circle class="b" cx="438.0" cy="440.5" r="3.6"/>
<circle class="b" cx="444.1" cy="487.3" r="3.6"/>
<circle class="b" cx="435.6" cy="454.1" r="3.6"/>
<circle class="b" cx="435.3" cy="458.2" r="3.6"/>
<circle class="b" cx="437.7" cy="465.0" r="3.6"/>
<circle class="b" cx="434.3" cy="451.6" r="3.6"/>
<circle class="b" cx="450.9" cy="442.4" r="3.6"/>
<circle class="b" cx="435.9" cy="458.9" r="3.6"/>
<circle class="b" cx="435.7" cy="443.7" r="3.6"/>
<circle class="b" cx="450.6" cy="472.4" r="3.6"/>
<circle class="b" cx="452.0" cy="461.2" r="3.6"/>
<circle class="b" cx="440.8" cy="433.1" r="3.6"/>
<circle class="b" cx="449.6" cy="466.4" r="3.6"/>
<circle class="b" cx="436.1" cy="448.3" r="3.6"/>
<circle class="b" cx="439.7" cy="469.9" r="3.6"/>
<circle class="b" cx="436.8" cy="454.1" r="3.6"/>
<circle class="b" cx="433.2" cy="482.7" r="3.6"/>
<circle class="b" cx="444.0" cy="460.7" r="3.6"/>
<circle class="b" cx="439.5" cy="464.0" r="3.6"/>
<circle class="b" cx="468.5" cy="445.4" r="3.6"/>
<circle class="b" cx="482.3" cy="463.0" r="3.6"/>
<circle class="b" cx="475.9" cy="463.5" r="3.6"/>
<circle class="b" cx="479.5" cy="447.3" r="3.6"/>
<circle class="b" cx="479.2" cy="459.0" r="3.6"/>
<circle class="b" cx="472.8" cy="443.6" r="3.6"/>
<circle class="b" cx="468.3" cy="460.1" r="3.6"/>
<circle class="b" cx="475.9" cy="463.6" r="3.6"/>
<circle class="b" cx="469.7" cy="454.9" r="3.6"/>
<circle class="b" cx="480.8" cy="461.6" r="3.6"/>
<circle class="b" cx="482.5" cy="459.4" r="3.6"/>
<circle class="b" cx="473.5" cy="467.1" r="3.6"/>
<circle class="b" cx="477.0" cy="445.6" r="3.6"/>
<circle class="b" cx="470.6" cy="456.6" r="3.6"/>
<circle class="b" cx="475.5" cy="458.7" r="3.6"/>
<circle class="b" cx="476.5" cy="458.9" r="3.6"/>
<circle class="b" cx="475.2" cy="439.9" r="3.6"/>
<circle class="b" cx="480.5" cy="470.6" r="3.6"/>
<circle class="b" cx="480.6" cy="454.1" r="3.6"/>
<circle class="b" cx="480.7" cy="443.8" r="3.6"/>
<circle class="b" cx="467.8" cy="466.4" r="3.6"/>
<circle class="b" cx="469.3" cy="463.5" r="3.6"/>
<circle class="b" cx="481.2" cy="459.0" r="3.6"/>
<circle class="b" cx="476.3" cy="464.5" r="3.6"/>
<circle class="b" cx="475.1" cy="466.3" r="3.6"/>
<circle class="b" cx="473.7" cy="470.8" r="3.6"/>
<circle class="b" cx="482.1" cy="468.7" r="3.6"/>
<circle class="b" cx="488.1" cy="453.7" r="3.6"/>
<circle class="b" cx="473.3" cy="468.2" r="3.6"/>
<circle class="b" cx="485.7" cy="456.7" r="3.6"/>
<circle class="b" cx="465.6" cy="459.1" r="3.6"/>
<circle class="b" cx="479.9" cy="471.6" r="3.6"/>
<circle class="b" cx="483.8" cy="456.9" r="3.6"/>
<circle class="b" cx="484.5" cy="463.8" r="3.6"/>
<circle class="b" cx="478.4" cy="457.3" r="3.6"/>
<circle class="b" cx="474.2" cy="465.7" r="3.6"/>
<circle class="b" cx="466.6" cy="448.2" r="3.6"/>
<circle class="b" cx="470.1" cy="464.2" r="3.6"/>
<circle class="b" cx="481.8" cy="455.9" r="3.6"/>
<circle class="b" cx="483.8" cy="469.0" r="3.6"/>
<circle class="b" cx="476.8" cy="459.9" r="3.6"/>
<circle class="b" cx="482.4" cy="465.9" r="3.6"/>
<circle class="b" cx="475.7" cy="456.7" r="3.6"/>
<circle class="b" cx="464.9" cy="456.3" r="3.6"/>
<circle class="b" cx="474.6" cy="452.5" r="3.6"/>
<circle class="b" cx="475.9" cy="446.5" r="3.6"/>
<circle class="b" cx="483.1" cy="461.3" r="3.6"/>
<circle class="b" cx="475.7" cy="447.7" r="3.6"/>
<circle class="b" cx="467.3" cy="457.1" r="3.6"/>
<circle class="b" cx="477.9" cy="438.3" r="3.6"/>
<circle class="b" cx="478.5" cy="473.6" r="3.6"/>
<circle class="b" cx="478.4" cy="475.4" r="3.6"/>
<circle class="b" cx="478.9" cy="480.8" r="3.6"/>
<circle class="b" cx="477.5" cy="471.3" r="3.6"/>
<circle class="b" cx="480.3" cy="482.5" r="3.6"/>
<circle class="b" cx="479.5" cy="482.9" r="3.6"/>
<circle class="b" cx="478.3" cy="479.9" r="3.6"/>
<circle class="b" cx="477.7" cy="479.0" r="3.6"/>
<circle class="b" cx="731.2" cy="465.8" r="3.6"/>
<circle class="b" cx="731.2" cy="468.8" r="3.6"/>
</g>
<text y="534.1" class="ds" style="font-size:19px"><tspan x="251.4" textLength="76.5">C/2013 </tspan><tspan x="331.9" textLength="27.5">V1 </tspan><tspan x="365.9" textLength="86.2">Boattini </tspan><tspan x="456.3" textLength="45.4">(GR, </tspan><tspan x="506.5" textLength="56.6">POST, </tspan><tspan x="570.2" textLength="33.3">r5; </tspan><tspan x="608.6" textLength="93.6">weighted)</tspan></text>
<g fill="#aaa000">
<circle cx="442.6" cy="579.8" r="5.35"/>
<circle cx="469.4" cy="595.8" r="5.35"/>
<circle cx="444.9" cy="617.1" r="5.35"/>
<circle cx="475.2" cy="617.1" r="5.35"/>
<circle cx="475.2" cy="624.5" r="5.35"/>
<circle cx="435.7" cy="624.5" r="5.35"/>
<circle cx="446.2" cy="630.0" r="5.35"/>
<circle cx="473.0" cy="635.6" r="5.35"/>
<circle cx="423.9" cy="635.6" r="5.35"/>
<circle cx="392.2" cy="625.3" r="5.35"/>
<circle cx="383.2" cy="634.8" r="5.35"/>
<circle cx="349.5" cy="634.8" r="5.35"/>
<circle cx="525.9" cy="625.2" r="5.35"/>
<circle cx="516.9" cy="630.3" r="5.35"/>
<circle cx="531.0" cy="652.1" r="5.35"/>
<circle cx="353.6" cy="651.9" r="5.35"/>
<circle cx="359.4" cy="657.6" r="5.35"/>
<circle cx="349.0" cy="668.9" r="5.35"/>
<circle cx="387.7" cy="653.2" r="5.35"/>
<circle cx="386.4" cy="662.0" r="5.35"/>
<circle cx="362.0" cy="668.2" r="5.35"/>
<circle cx="368.2" cy="668.2" r="5.35"/>
<circle cx="357.6" cy="676.4" r="5.35"/>
<circle cx="363.2" cy="676.4" r="5.35"/>
<circle cx="363.8" cy="683.3" r="5.35"/>
<circle cx="374.5" cy="673.9" r="5.35"/>
<circle cx="380.8" cy="676.4" r="5.35"/>
<circle cx="377.6" cy="680.2" r="5.35"/>
<circle cx="381.4" cy="683.9" r="5.35"/>
<circle cx="390.8" cy="677.6" r="5.35"/>
<circle cx="390.2" cy="685.2" r="5.35"/>
<circle cx="398.3" cy="668.2" r="5.35"/>
<circle cx="395.2" cy="676.4" r="5.35"/>
<circle cx="401.5" cy="676.4" r="5.35"/>
<circle cx="402.7" cy="683.9" r="5.35"/>
<circle cx="406.5" cy="688.9" r="5.35"/>
<circle cx="410.3" cy="694.0" r="5.35"/>
<circle cx="413.4" cy="675.8" r="5.35"/>
<circle cx="417.8" cy="683.9" r="5.35"/>
<circle cx="421.6" cy="682.0" r="5.35"/>
<circle cx="421.3" cy="683.3" r="5.35"/>
<circle cx="438.8" cy="656.9" r="5.35"/>
<circle cx="447.0" cy="657.6" r="5.35"/>
<circle cx="431.9" cy="663.2" r="5.35"/>
<circle cx="448.9" cy="663.8" r="5.35"/>
<circle cx="436.3" cy="671.4" r="5.35"/>
<circle cx="432.5" cy="676.4" r="5.35"/>
<circle cx="438.8" cy="677.6" r="5.35"/>
<circle cx="432.5" cy="683.9" r="5.35"/>
<circle cx="438.8" cy="683.9" r="5.35"/>
<circle cx="436.3" cy="689.6" r="5.35"/>
<circle cx="446.3" cy="676.4" r="5.35"/>
<circle cx="453.2" cy="676.4" r="5.35"/>
<circle cx="448.9" cy="682.7" r="5.35"/>
<circle cx="452.6" cy="687.7" r="5.35"/>
<circle cx="451.4" cy="693.3" r="5.35"/>
<circle cx="443.0" cy="671.0" r="5.35"/>
<circle cx="445.0" cy="667.0" r="5.35"/>
<circle cx="434.0" cy="668.0" r="5.35"/>
<circle cx="440.5" cy="664.5" r="5.35"/>
<circle cx="438.5" cy="668.5" r="5.35"/>
<circle cx="444.0" cy="680.0" r="5.35"/>
<circle cx="441.0" cy="686.0" r="5.35"/>
<circle cx="469.6" cy="657.6" r="5.35"/>
<circle cx="468.3" cy="673.2" r="5.35"/>
<circle cx="465.2" cy="682.7" r="5.35"/>
<circle cx="469.6" cy="693.3" r="5.35"/>
<circle cx="480.2" cy="667.0" r="5.35"/>
<circle cx="479.0" cy="675.1" r="5.35"/>
<circle cx="479.0" cy="682.7" r="5.35"/>
<circle cx="487.8" cy="675.1" r="5.35"/>
<circle cx="487.8" cy="682.7" r="5.35"/>
<circle cx="491.5" cy="673.2" r="5.35"/>
<circle cx="497.8" cy="663.2" r="5.35"/>
<circle cx="505.3" cy="658.8" r="5.35"/>
<circle cx="504.7" cy="682.7" r="5.35"/>
<circle cx="510.3" cy="673.2" r="5.35"/>
<circle cx="516.6" cy="675.1" r="5.35"/>
<circle cx="517.6" cy="675.9" r="5.35"/>
<circle cx="527.9" cy="673.1" r="5.35"/>
<circle cx="534.8" cy="677.9" r="5.35"/>
<circle cx="532.1" cy="683.4" r="5.35"/>
<circle cx="528.6" cy="691.0" r="5.35"/>
<circle cx="731.4" cy="678.5" r="5.35"/>
</g><g fill="#00ffff">
<circle cx="442.6" cy="579.8" r="4"/>
<circle cx="469.4" cy="595.8" r="4"/>
<circle cx="444.9" cy="617.1" r="4"/>
<circle cx="475.2" cy="617.1" r="4"/>
<circle cx="475.2" cy="624.5" r="4"/>
<circle cx="435.7" cy="624.5" r="4"/>
<circle cx="446.2" cy="630.0" r="4"/>
<circle cx="473.0" cy="635.6" r="4"/>
<circle cx="423.9" cy="635.6" r="4"/>
<circle cx="392.2" cy="625.3" r="4"/>
<circle cx="383.2" cy="634.8" r="4"/>
<circle cx="349.5" cy="634.8" r="4"/>
<circle cx="525.9" cy="625.2" r="4"/>
<circle cx="516.9" cy="630.3" r="4"/>
<circle cx="531.0" cy="652.1" r="4"/>
<circle cx="353.6" cy="651.9" r="4"/>
<circle cx="359.4" cy="657.6" r="4"/>
<circle cx="349.0" cy="668.9" r="4"/>
<circle cx="387.7" cy="653.2" r="4"/>
<circle cx="386.4" cy="662.0" r="4"/>
<circle cx="362.0" cy="668.2" r="4"/>
<circle cx="368.2" cy="668.2" r="4"/>
<circle cx="357.6" cy="676.4" r="4"/>
<circle cx="363.2" cy="676.4" r="4"/>
<circle cx="363.8" cy="683.3" r="4"/>
<circle cx="374.5" cy="673.9" r="4"/>
<circle cx="380.8" cy="676.4" r="4"/>
<circle cx="377.6" cy="680.2" r="4"/>
<circle cx="381.4" cy="683.9" r="4"/>
<circle cx="390.8" cy="677.6" r="4"/>
<circle cx="390.2" cy="685.2" r="4"/>
<circle cx="398.3" cy="668.2" r="4"/>
<circle cx="395.2" cy="676.4" r="4"/>
<circle cx="401.5" cy="676.4" r="4"/>
<circle cx="402.7" cy="683.9" r="4"/>
<circle cx="406.5" cy="688.9" r="4"/>
<circle cx="410.3" cy="694.0" r="4"/>
<circle cx="413.4" cy="675.8" r="4"/>
<circle cx="417.8" cy="683.9" r="4"/>
<circle cx="421.6" cy="682.0" r="4"/>
<circle cx="421.3" cy="683.3" r="4"/>
<circle cx="438.8" cy="656.9" r="4"/>
<circle cx="447.0" cy="657.6" r="4"/>
<circle cx="431.9" cy="663.2" r="4"/>
<circle cx="448.9" cy="663.8" r="4"/>
<circle cx="436.3" cy="671.4" r="4"/>
<circle cx="432.5" cy="676.4" r="4"/>
<circle cx="438.8" cy="677.6" r="4"/>
<circle cx="432.5" cy="683.9" r="4"/>
<circle cx="438.8" cy="683.9" r="4"/>
<circle cx="436.3" cy="689.6" r="4"/>
<circle cx="446.3" cy="676.4" r="4"/>
<circle cx="453.2" cy="676.4" r="4"/>
<circle cx="448.9" cy="682.7" r="4"/>
<circle cx="452.6" cy="687.7" r="4"/>
<circle cx="451.4" cy="693.3" r="4"/>
<circle cx="443.0" cy="671.0" r="4"/>
<circle cx="445.0" cy="667.0" r="4"/>
<circle cx="434.0" cy="668.0" r="4"/>
<circle cx="440.5" cy="664.5" r="4"/>
<circle cx="438.5" cy="668.5" r="4"/>
<circle cx="444.0" cy="680.0" r="4"/>
<circle cx="441.0" cy="686.0" r="4"/>
<circle cx="469.6" cy="657.6" r="4"/>
<circle cx="468.3" cy="673.2" r="4"/>
<circle cx="465.2" cy="682.7" r="4"/>
<circle cx="469.6" cy="693.3" r="4"/>
<circle cx="480.2" cy="667.0" r="4"/>
<circle cx="479.0" cy="675.1" r="4"/>
<circle cx="479.0" cy="682.7" r="4"/>
<circle cx="487.8" cy="675.1" r="4"/>
<circle cx="487.8" cy="682.7" r="4"/>
<circle cx="491.5" cy="673.2" r="4"/>
<circle cx="497.8" cy="663.2" r="4"/>
<circle cx="505.3" cy="658.8" r="4"/>
<circle cx="504.7" cy="682.7" r="4"/>
<circle cx="510.3" cy="673.2" r="4"/>
<circle cx="516.6" cy="675.1" r="4"/>
<circle cx="517.6" cy="675.9" r="4"/>
<circle cx="527.9" cy="673.1" r="4"/>
<circle cx="534.8" cy="677.9" r="4"/>
<circle cx="532.1" cy="683.4" r="4"/>
<circle cx="528.6" cy="691.0" r="4"/>
<circle cx="731.4" cy="678.5" r="4"/>
</g>
<g stroke="#000" stroke-width="1.7" stroke-dasharray="3 3.02" fill="none">
<line x1="346.2" y1="43.4" x2="346.2" y2="711.9"/>
<line x1="86.5" y1="171.6" x2="755.4" y2="171.6"/>
<line x1="86.5" y1="294.1" x2="755.4" y2="294.1"/>
<line x1="86.5" y1="461.2" x2="755.4" y2="461.2"/>
<line x1="86.5" y1="658.0" x2="755.4" y2="658.0"/>
</g>
<g stroke="#000" stroke-width="2.7" fill="none" stroke-linecap="round">
<rect x="86.5" y="43.4" width="668.9" height="668.5" stroke-linejoin="round"/>
<line x1="86.5" y1="210.3" x2="755.4" y2="210.3"/>
<line x1="86.5" y1="377.5" x2="755.4" y2="377.5"/>
<line x1="86.5" y1="544.6" x2="755.4" y2="544.6"/>
</g>
<g stroke="#000" stroke-width="2.5" fill="none" stroke-linecap="butt">
<path d="M138.2 43.4v6.3M138.2 204.0v12.6M138.2 371.2v12.6M138.2 538.3v12.6M138.2 711.9v-6.3M189.7 43.4v12.3M189.7 198.0v24.6M189.7 365.2v24.6M189.7 532.3v24.6M189.7 711.9v-12.3M241.2 43.4v6.3M241.2 204.0v12.6M241.2 371.2v12.6M241.2 538.3v12.6M241.2 711.9v-6.3M292.7 43.4v6.3M292.7 204.0v12.6M292.7 371.2v12.6M292.7 538.3v12.6M292.7 711.9v-6.3M344.1 43.4v6.3M344.1 204.0v12.6M344.1 371.2v12.6M344.1 538.3v12.6M344.1 711.9v-6.3M395.6 43.4v6.3M395.6 204.0v12.6M395.6 371.2v12.6M395.6 538.3v12.6M395.6 711.9v-6.3M447.1 43.4v12.3M447.1 198.0v24.6M447.1 365.2v24.6M447.1 532.3v24.6M447.1 711.9v-12.3M498.6 43.4v6.3M498.6 204.0v12.6M498.6 371.2v12.6M498.6 538.3v12.6M498.6 711.9v-6.3M550.1 43.4v6.3M550.1 204.0v12.6M550.1 371.2v12.6M550.1 538.3v12.6M550.1 711.9v-6.3M601.5 43.4v6.3M601.5 204.0v12.6M601.5 371.2v12.6M601.5 538.3v12.6M601.5 711.9v-6.3M653.0 43.4v6.3M653.0 204.0v12.6M653.0 371.2v12.6M653.0 538.3v12.6M653.0 711.9v-6.3M704.5 43.4v12.3M704.5 198.0v24.6M704.5 365.2v24.6M704.5 532.3v24.6M704.5 711.9v-12.3M86.5 201.5h13.4M755.4 201.5h-13.4M86.5 192.5h6.5M755.4 192.5h-6.5M86.5 183.5h6.5M755.4 183.5h-6.5M86.5 174.5h6.5M755.4 174.5h-6.5M86.5 165.5h6.5M755.4 165.5h-6.5M86.5 156.5h13.4M755.4 156.5h-13.4M86.5 147.5h6.5M755.4 147.5h-6.5M86.5 138.5h6.5M755.4 138.5h-6.5M86.5 129.5h6.5M755.4 129.5h-6.5M86.5 120.5h6.5M755.4 120.5h-6.5M86.5 111.5h13.4M755.4 111.5h-13.4M86.5 102.5h6.5M755.4 102.5h-6.5M86.5 93.5h6.5M755.4 93.5h-6.5M86.5 84.5h6.5M755.4 84.5h-6.5M86.5 75.5h6.5M755.4 75.5h-6.5M86.5 66.5h13.4M755.4 66.5h-13.4M86.5 57.5h6.5M755.4 57.5h-6.5M86.5 48.5h6.5M755.4 48.5h-6.5M86.5 371.2h6.5M755.4 371.2h-6.5M86.5 364.7h6.5M755.4 364.7h-6.5M86.5 358.3h13.4M755.4 358.3h-13.4M86.5 351.9h6.5M755.4 351.9h-6.5M86.5 345.4h6.5M755.4 345.4h-6.5M86.5 339.0h6.5M755.4 339.0h-6.5M86.5 332.6h6.5M755.4 332.6h-6.5M86.5 326.1h13.4M755.4 326.1h-13.4M86.5 319.7h6.5M755.4 319.7h-6.5M86.5 313.3h6.5M755.4 313.3h-6.5M86.5 306.9h6.5M755.4 306.9h-6.5M86.5 300.4h6.5M755.4 300.4h-6.5M86.5 294.0h13.4M755.4 294.0h-13.4M86.5 287.6h6.5M755.4 287.6h-6.5M86.5 281.1h6.5M755.4 281.1h-6.5M86.5 274.7h6.5M755.4 274.7h-6.5M86.5 268.3h6.5M755.4 268.3h-6.5M86.5 261.9h13.4M755.4 261.9h-13.4M86.5 255.4h6.5M755.4 255.4h-6.5M86.5 249.0h6.5M755.4 249.0h-6.5M86.5 242.6h6.5M755.4 242.6h-6.5M86.5 236.1h6.5M755.4 236.1h-6.5M86.5 229.7h13.4M755.4 229.7h-13.4M86.5 223.3h6.5M755.4 223.3h-6.5M86.5 216.8h6.5M755.4 216.8h-6.5M86.5 538.3h6.5M755.4 538.3h-6.5M86.5 531.8h6.5M755.4 531.8h-6.5M86.5 525.4h13.4M755.4 525.4h-13.4M86.5 519.0h6.5M755.4 519.0h-6.5M86.5 512.5h6.5M755.4 512.5h-6.5M86.5 506.1h6.5M755.4 506.1h-6.5M86.5 499.7h6.5M755.4 499.7h-6.5M86.5 493.2h13.4M755.4 493.2h-13.4M86.5 486.8h6.5M755.4 486.8h-6.5M86.5 480.4h6.5M755.4 480.4h-6.5M86.5 474.0h6.5M755.4 474.0h-6.5M86.5 467.5h6.5M755.4 467.5h-6.5M86.5 461.1h13.4M755.4 461.1h-13.4M86.5 454.7h6.5M755.4 454.7h-6.5M86.5 448.2h6.5M755.4 448.2h-6.5M86.5 441.8h6.5M755.4 441.8h-6.5M86.5 435.4h6.5M755.4 435.4h-6.5M86.5 429.0h13.4M755.4 429.0h-13.4M86.5 422.5h6.5M755.4 422.5h-6.5M86.5 416.1h6.5M755.4 416.1h-6.5M86.5 409.7h6.5M755.4 409.7h-6.5M86.5 403.2h6.5M755.4 403.2h-6.5M86.5 396.8h13.4M755.4 396.8h-13.4M86.5 390.4h6.5M755.4 390.4h-6.5M86.5 383.9h6.5M755.4 383.9h-6.5M86.5 703.5h6.5M755.4 703.5h-6.5M86.5 692.1h6.5M755.4 692.1h-6.5M86.5 680.7h6.5M755.4 680.7h-6.5M86.5 669.4h6.5M755.4 669.4h-6.5M86.5 658.0h13.4M755.4 658.0h-13.4M86.5 646.6h6.5M755.4 646.6h-6.5M86.5 635.3h6.5M755.4 635.3h-6.5M86.5 623.9h6.5M755.4 623.9h-6.5M86.5 612.5h6.5M755.4 612.5h-6.5M86.5 601.1h13.4M755.4 601.1h-13.4M86.5 589.8h6.5M755.4 589.8h-6.5M86.5 578.4h6.5M755.4 578.4h-6.5M86.5 567.0h6.5M755.4 567.0h-6.5M86.5 555.7h6.5M755.4 555.7h-6.5"/>
</g>
<rect x="174" y="52" width="124" height="70.7" fill="#e6e6e6"/>
<rect x="328" y="52" width="170.3" height="70.7" fill="#bdd0ec"/>
<text x="191.5" y="70.7" class="ds" text-anchor="start" textLength="69.5">1.21 yr</text>
<text x="189.6" y="95.0" class="ds" text-anchor="start" textLength="95.5">2144 obs.</text>
<text x="191.5" y="118.3" class="ds" text-anchor="start" textLength="20.5">1a</text>
<text x="344.0" y="70.7" class="ds" text-anchor="start" textLength="71">0.74 yr</text>
<text x="344.0" y="95.0" class="ds" text-anchor="start" textLength="83">399 obs.</text>
<text x="344.0" y="118.3" class="ds" text-anchor="start" textLength="146.5">2a(NG)/1b(GR)</text>
<text x="189.7" y="33.9" class="sb" text-anchor="middle" textLength="46.3">2014</text>
<text x="189.7" y="736.4" class="sb" text-anchor="middle" textLength="46.3">2014</text>
<text x="447.1" y="33.9" class="sb" text-anchor="middle" textLength="63.8">2014.5</text>
<text x="447.1" y="736.4" class="sb" text-anchor="middle" textLength="63.8">2014.5</text>
<text x="704.5" y="33.9" class="sb" text-anchor="middle" textLength="45.8">2015</text>
<text x="704.5" y="736.4" class="sb" text-anchor="middle" textLength="45.8">2015</text>
<text x="76.0" y="208.8" class="nb" text-anchor="end" >1</text>
<text x="76.0" y="163.8" class="nb" text-anchor="end" >2</text>
<text x="76.0" y="118.8" class="nb" text-anchor="end" >3</text>
<text x="76.0" y="73.8" class="nb" text-anchor="end" >4</text>
<text x="76.0" y="365.6" class="nb" text-anchor="end" >−2</text>
<text x="76.0" y="333.4" class="nb" text-anchor="end" >−1</text>
<text x="76.0" y="301.3" class="nb" text-anchor="end" >0</text>
<text x="76.0" y="269.2" class="nb" text-anchor="end" >1</text>
<text x="76.0" y="237.0" class="nb" text-anchor="end" >2</text>
<text x="76.0" y="532.7" class="nb" text-anchor="end" >−2</text>
<text x="76.0" y="500.6" class="nb" text-anchor="end" >−1</text>
<text x="76.0" y="468.4" class="nb" text-anchor="end" >0</text>
<text x="76.0" y="436.3" class="nb" text-anchor="end" >1</text>
<text x="76.0" y="404.1" class="nb" text-anchor="end" >2</text>
<text x="76.0" y="665.3" class="nb" text-anchor="end" >1</text>
<text x="76.0" y="608.4" class="nb" text-anchor="end" >2</text>
<text transform="translate(51.4 127.3) rotate(-90)" class="nb" text-anchor="middle" textLength="132.5">distance [au]</text>
<text transform="translate(35.3 293.8) rotate(-90)" class="nb" text-anchor="middle" textLength="129.0">O−C [arcsec]</text>
<text transform="translate(35.3 460.9) rotate(-90)" class="nb" text-anchor="middle" textLength="129.0">O−C [arcsec]</text>
<text transform="translate(50.4 627.8) rotate(-90)" class="nb" text-anchor="middle" textLength="73.0">weights</text>
<text class="nb" y="761.2" x="361.2 383.3 405.6 422.8"><tspan>D</tspan><tspan>a</tspan><tspan>t</tspan><tspan>e</tspan></text>
<text x="444.0" y="761.2" class="nb" text-anchor="start" textLength="36">[yr]</text>
<text x="666.8" y="574.1" class="lg" text-anchor="start" fill="#aaa000" stroke="#aaa000" stroke-width=".35" textLength="61">GR r5</text>
<text x="666.3" y="596.6" class="lg" text-anchor="start" fill="#00ffff" stroke="#00ffff" stroke-width=".35" textLength="62">NG rn</text>
</svg></body></html>
